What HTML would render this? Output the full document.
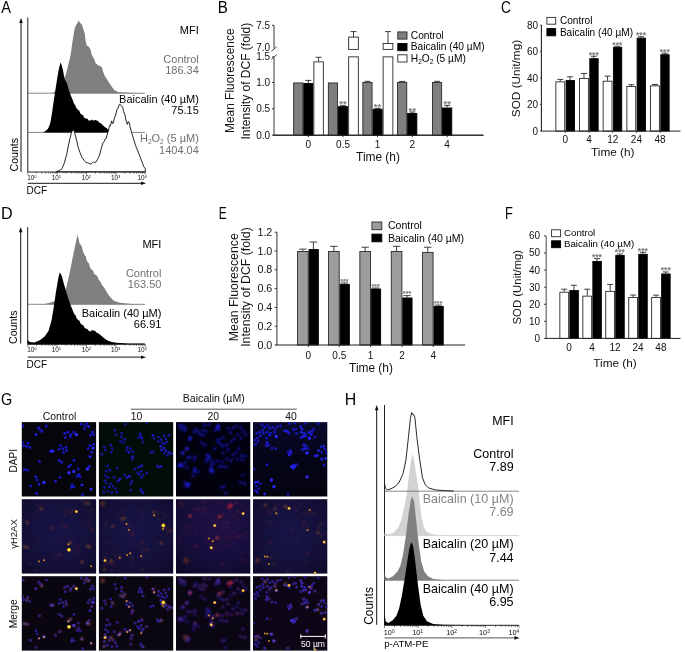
<!DOCTYPE html>
<html lang="en">
<head>
<meta charset="utf-8">
<title>Figure</title>
<style>
html,body{margin:0;padding:0;background:#fff;}
body{width:685px;height:652px;overflow:hidden;}
svg{display:block;font-family:"Liberation Sans", Arial, sans-serif;}
</style>
</head>
<body>
<svg width="685" height="652" viewBox="0 0 685 652">
<rect x="0" y="0" width="685" height="652" fill="#fff"/>
<text transform="translate(1.30 12.6) scale(0.882 1)" font-size="16.5" fill="#000">A</text>
<line x1="21" y1="172" x2="21" y2="21" stroke="#111" stroke-width="1"/>
<polygon points="19.2,23.0 21.0,17.7 22.8,23.0" fill="#111" stroke="none" stroke-width="1"/>
<line x1="27.8" y1="17.5" x2="27.8" y2="172" stroke="#222" stroke-width="1"/>
<line x1="27.8" y1="93.2" x2="145" y2="93.2" stroke="#6a6a6a" stroke-width="0.8"/>
<polygon points="51.6,93.2 54.4,91.9 60.0,86.0 64.9,77.6 67.5,68.0 70.6,54.9 72.6,41.0 74.7,28.3 76.5,24.5 78.7,20.7 80.0,22.8 81.9,24.5 83.3,29.0 84.8,34.0 85.6,41.0 86.7,45.4 88.5,46.5 90.5,49.2 91.5,54.0 93.3,57.7 94.6,60.0 95.5,63.0 98.1,65.3 100.0,66.0 101.9,67.2 103.0,71.5 104.7,75.7 107.0,79.5 109.5,83.3 112.0,87.0 114.2,90.0 118.0,91.9 123.0,92.5 129.4,92.8 144.6,93.2" fill="#7f7f7f" stroke="none" stroke-width="1"/>
<line x1="27.8" y1="132.4" x2="145" y2="132.4" stroke="#6a6a6a" stroke-width="0.8"/>
<polygon points="43.0,132.4 45.5,131.0 47.8,129.0 49.3,126.0 50.6,121.4 52.0,113.0 53.5,102.4 55.4,90.0 57.3,77.8 58.8,69.0 60.5,62.6 61.8,65.5 63.0,70.2 63.9,75.5 64.9,79.7 66.3,82.0 67.7,85.4 69.0,90.5 70.6,94.9 72.3,99.0 74.3,104.3 75.3,105.2 76.2,107.8 78.1,110.0 79.2,110.6 80.2,113.3 81.9,114.8 83.0,115.0 84.0,117.5 85.7,118.6 87.5,118.8 88.5,120.4 90.5,120.5 92.0,119.6 93.3,120.8 95.0,119.8 96.2,120.5 98.0,120.8 99.0,122.4 100.9,123.3 102.5,125.0 104.7,127.1 106.5,128.0 108.0,129.6 109.5,130.0 110.4,132.4" fill="#000" stroke="none" stroke-width="1"/>
<polygon points="56.0,171.8 59.0,170.8 61.9,168.8 64.3,163.0 66.6,154.8 68.3,146.0 70.0,138.4 71.5,132.5 73.1,129.8 74.2,131.0 75.2,134.9 76.8,141.0 78.3,147.8 80.0,152.5 81.8,157.1 84.0,160.2 86.4,162.9 88.0,162.6 90.0,164.1 91.8,163.6 93.5,161.8 94.6,162.6 95.8,162.2 97.5,159.3 99.3,155.9 101.0,149.5 102.8,143.1 104.2,141.6 105.2,138.8 106.3,138.4 107.3,134.0 108.6,130.2 109.5,125.3 110.4,125.8 111.7,120.9 112.4,123.6 113.3,123.2 114.4,118.0 115.7,115.0 116.8,110.0 118.0,108.0 119.0,104.9 120.3,104.5 121.5,106.3 122.7,106.9 123.7,111.8 125.0,115.0 126.0,120.5 127.3,124.4 128.2,121.6 129.0,122.1 130.4,128.0 132.0,133.7 133.6,139.0 135.5,145.4 137.8,151.0 140.2,157.1 142.0,162.0 143.7,166.4 145.3,168.8 145.3,171.8" fill="#fff" stroke="#111" stroke-width="0.9" stroke-linejoin="round"/>
<line x1="27.8" y1="172" x2="145.3" y2="172" stroke="#222" stroke-width="1"/>
<line x1="27.8" y1="172" x2="27.8" y2="174.6" stroke="#222" stroke-width="0.6"/>
<line x1="36.64" y1="172" x2="36.64" y2="173.6" stroke="#222" stroke-width="0.6"/>
<line x1="41.82" y1="172" x2="41.82" y2="173.6" stroke="#222" stroke-width="0.6"/>
<line x1="45.49" y1="172" x2="45.49" y2="173.6" stroke="#222" stroke-width="0.6"/>
<line x1="48.33" y1="172" x2="48.33" y2="173.6" stroke="#222" stroke-width="0.6"/>
<line x1="50.66" y1="172" x2="50.66" y2="173.6" stroke="#222" stroke-width="0.6"/>
<line x1="52.62" y1="172" x2="52.62" y2="173.6" stroke="#222" stroke-width="0.6"/>
<line x1="54.33" y1="172" x2="54.33" y2="173.6" stroke="#222" stroke-width="0.6"/>
<line x1="55.83" y1="172" x2="55.83" y2="173.6" stroke="#222" stroke-width="0.6"/>
<line x1="57.18" y1="172" x2="57.18" y2="174.6" stroke="#222" stroke-width="0.6"/>
<line x1="66.02" y1="172" x2="66.02" y2="173.6" stroke="#222" stroke-width="0.6"/>
<line x1="71.19" y1="172" x2="71.19" y2="173.6" stroke="#222" stroke-width="0.6"/>
<line x1="74.86" y1="172" x2="74.86" y2="173.6" stroke="#222" stroke-width="0.6"/>
<line x1="77.71" y1="172" x2="77.71" y2="173.6" stroke="#222" stroke-width="0.6"/>
<line x1="80.03" y1="172" x2="80.03" y2="173.6" stroke="#222" stroke-width="0.6"/>
<line x1="82.0" y1="172" x2="82.0" y2="173.6" stroke="#222" stroke-width="0.6"/>
<line x1="83.7" y1="172" x2="83.7" y2="173.6" stroke="#222" stroke-width="0.6"/>
<line x1="85.21" y1="172" x2="85.21" y2="173.6" stroke="#222" stroke-width="0.6"/>
<line x1="86.55" y1="172" x2="86.55" y2="174.6" stroke="#222" stroke-width="0.6"/>
<line x1="95.39" y1="172" x2="95.39" y2="173.6" stroke="#222" stroke-width="0.6"/>
<line x1="100.57" y1="172" x2="100.57" y2="173.6" stroke="#222" stroke-width="0.6"/>
<line x1="104.24" y1="172" x2="104.24" y2="173.6" stroke="#222" stroke-width="0.6"/>
<line x1="107.08" y1="172" x2="107.08" y2="173.6" stroke="#222" stroke-width="0.6"/>
<line x1="109.41" y1="172" x2="109.41" y2="173.6" stroke="#222" stroke-width="0.6"/>
<line x1="111.37" y1="172" x2="111.37" y2="173.6" stroke="#222" stroke-width="0.6"/>
<line x1="113.08" y1="172" x2="113.08" y2="173.6" stroke="#222" stroke-width="0.6"/>
<line x1="114.58" y1="172" x2="114.58" y2="173.6" stroke="#222" stroke-width="0.6"/>
<line x1="115.93" y1="172" x2="115.93" y2="174.6" stroke="#222" stroke-width="0.6"/>
<line x1="124.77" y1="172" x2="124.77" y2="173.6" stroke="#222" stroke-width="0.6"/>
<line x1="129.94" y1="172" x2="129.94" y2="173.6" stroke="#222" stroke-width="0.6"/>
<line x1="133.61" y1="172" x2="133.61" y2="173.6" stroke="#222" stroke-width="0.6"/>
<line x1="136.46" y1="172" x2="136.46" y2="173.6" stroke="#222" stroke-width="0.6"/>
<line x1="138.78" y1="172" x2="138.78" y2="173.6" stroke="#222" stroke-width="0.6"/>
<line x1="140.75" y1="172" x2="140.75" y2="173.6" stroke="#222" stroke-width="0.6"/>
<line x1="142.45" y1="172" x2="142.45" y2="173.6" stroke="#222" stroke-width="0.6"/>
<line x1="143.96" y1="172" x2="143.96" y2="173.6" stroke="#222" stroke-width="0.6"/>
<line x1="145.3" y1="172" x2="145.3" y2="174.6" stroke="#222" stroke-width="0.6"/>
<text x="27.2" y="180.1" font-size="6.4" fill="#111">10<tspan font-size="4.1" dy="-2">0</tspan></text>
<text x="51.7" y="180.1" font-size="6.4" fill="#111">10<tspan font-size="4.1" dy="-2">1</tspan></text>
<text x="81.7" y="180.1" font-size="6.4" fill="#111">10<tspan font-size="4.1" dy="-2">2</tspan></text>
<text x="111.0" y="180.1" font-size="6.4" fill="#111">10<tspan font-size="4.1" dy="-2">3</tspan></text>
<text x="137.4" y="180.1" font-size="6.4" fill="#111">10<tspan font-size="4.1" dy="-2">4</tspan></text>
<line x1="27.8" y1="183.3" x2="142.5" y2="183.3" stroke="#444" stroke-width="1.2"/>
<polygon points="141.0,181.5 146.0,183.3 141.0,185.1" fill="#111" stroke="none" stroke-width="1"/>
<text x="26.6" y="193.8" font-size="10" text-anchor="start" fill="#000">DCF</text>
<text x="17.6" y="171.5" font-size="10.6" text-anchor="start" fill="#000" transform="rotate(-90 17.6 171.5)">Counts</text>
<text x="198.8" y="34" font-size="11" text-anchor="end" fill="#000">MFI</text>
<text x="198.8" y="63" font-size="11" text-anchor="end" fill="#707070">Control</text>
<text x="198.8" y="73.7" font-size="11" text-anchor="end" fill="#707070">186.34</text>
<text x="198.8" y="103" font-size="11" text-anchor="end" fill="#000">Baicalin (40 µM)</text>
<text x="198.8" y="113.9" font-size="11" text-anchor="end" fill="#000">75.15</text>
<text x="198.8" y="142.4" font-size="11" text-anchor="end" fill="#707070">H<tspan font-size="6.5" dy="1.5">2</tspan><tspan dy="-1.5">O</tspan><tspan font-size="6.5" dy="1.5">2</tspan><tspan dy="-1.5"> (5 µM)</tspan></text>
<text x="198.8" y="153.8" font-size="11" text-anchor="end" fill="#707070">1404.04</text>
<text transform="translate(1.01 218.8) scale(0.976 1)" font-size="16.5" fill="#000">D</text>
<line x1="20.7" y1="343.5" x2="20.7" y2="230.2" stroke="#111" stroke-width="1"/>
<polygon points="18.9,232.2 20.7,226.9 22.5,232.2" fill="#111" stroke="none" stroke-width="1"/>
<line x1="27.7" y1="227" x2="27.7" y2="344.3" stroke="#222" stroke-width="1"/>
<line x1="27.7" y1="304.3" x2="145" y2="304.3" stroke="#6a6a6a" stroke-width="0.8"/>
<polygon points="44.0,304.3 49.7,302.8 55.4,300.9 61.0,296.0 65.8,289.5 68.0,280.0 70.5,268.7 72.6,258.0 74.7,247.8 76.2,240.5 77.6,234.9 78.6,239.0 79.7,244.0 80.8,244.8 81.9,246.8 83.0,251.5 84.8,255.4 85.8,256.0 86.6,260.6 87.6,262.0 89.0,263.5 90.0,267.5 91.4,269.6 93.0,270.6 94.2,274.0 96.2,275.3 97.6,276.5 98.6,279.8 100.0,281.0 102.0,285.0 104.7,288.6 107.0,292.5 109.5,296.2 112.0,299.0 114.2,300.9 119.9,302.8 131.3,304.0 144.6,304.3" fill="#7f7f7f" stroke="none" stroke-width="1"/>
<polygon points="27.7,344.3 27.7,340.0 29.7,341.9 34.5,342.4 40.2,340.0 44.9,336.2 48.7,330.5 51.6,320.0 53.0,312.0 54.4,303.0 55.8,293.0 57.3,284.0 58.5,277.0 59.7,272.6 60.8,274.0 62.0,276.4 63.0,280.5 63.9,284.0 65.3,288.5 66.8,293.5 68.6,299.5 70.5,304.9 72.4,309.5 74.3,314.3 75.5,315.0 76.4,318.0 78.1,320.0 79.5,320.8 80.4,323.2 81.9,324.8 83.5,325.4 84.5,327.8 85.7,328.6 87.5,329.0 88.8,331.0 90.5,331.4 92.0,330.0 93.3,330.5 95.0,330.8 96.4,332.6 98.1,333.3 100.5,335.0 102.8,337.1 105.5,339.2 108.5,340.9 112.0,342.0 116.1,342.8 129.4,343.4 144.6,343.6 144.6,344.3" fill="#000" stroke="none" stroke-width="1"/>
<line x1="27.7" y1="344.3" x2="145.3" y2="344.3" stroke="#222" stroke-width="1"/>
<line x1="27.7" y1="344.3" x2="27.7" y2="346.90000000000003" stroke="#222" stroke-width="0.6"/>
<line x1="36.55" y1="344.3" x2="36.55" y2="345.90000000000003" stroke="#222" stroke-width="0.6"/>
<line x1="41.73" y1="344.3" x2="41.73" y2="345.90000000000003" stroke="#222" stroke-width="0.6"/>
<line x1="45.4" y1="344.3" x2="45.4" y2="345.90000000000003" stroke="#222" stroke-width="0.6"/>
<line x1="48.25" y1="344.3" x2="48.25" y2="345.90000000000003" stroke="#222" stroke-width="0.6"/>
<line x1="50.58" y1="344.3" x2="50.58" y2="345.90000000000003" stroke="#222" stroke-width="0.6"/>
<line x1="52.55" y1="344.3" x2="52.55" y2="345.90000000000003" stroke="#222" stroke-width="0.6"/>
<line x1="54.25" y1="344.3" x2="54.25" y2="345.90000000000003" stroke="#222" stroke-width="0.6"/>
<line x1="55.75" y1="344.3" x2="55.75" y2="345.90000000000003" stroke="#222" stroke-width="0.6"/>
<line x1="57.1" y1="344.3" x2="57.1" y2="346.90000000000003" stroke="#222" stroke-width="0.6"/>
<line x1="65.95" y1="344.3" x2="65.95" y2="345.90000000000003" stroke="#222" stroke-width="0.6"/>
<line x1="71.13" y1="344.3" x2="71.13" y2="345.90000000000003" stroke="#222" stroke-width="0.6"/>
<line x1="74.8" y1="344.3" x2="74.8" y2="345.90000000000003" stroke="#222" stroke-width="0.6"/>
<line x1="77.65" y1="344.3" x2="77.65" y2="345.90000000000003" stroke="#222" stroke-width="0.6"/>
<line x1="79.98" y1="344.3" x2="79.98" y2="345.90000000000003" stroke="#222" stroke-width="0.6"/>
<line x1="81.95" y1="344.3" x2="81.95" y2="345.90000000000003" stroke="#222" stroke-width="0.6"/>
<line x1="83.65" y1="344.3" x2="83.65" y2="345.90000000000003" stroke="#222" stroke-width="0.6"/>
<line x1="85.15" y1="344.3" x2="85.15" y2="345.90000000000003" stroke="#222" stroke-width="0.6"/>
<line x1="86.5" y1="344.3" x2="86.5" y2="346.90000000000003" stroke="#222" stroke-width="0.6"/>
<line x1="95.35" y1="344.3" x2="95.35" y2="345.90000000000003" stroke="#222" stroke-width="0.6"/>
<line x1="100.53" y1="344.3" x2="100.53" y2="345.90000000000003" stroke="#222" stroke-width="0.6"/>
<line x1="104.2" y1="344.3" x2="104.2" y2="345.90000000000003" stroke="#222" stroke-width="0.6"/>
<line x1="107.05" y1="344.3" x2="107.05" y2="345.90000000000003" stroke="#222" stroke-width="0.6"/>
<line x1="109.38" y1="344.3" x2="109.38" y2="345.90000000000003" stroke="#222" stroke-width="0.6"/>
<line x1="111.35" y1="344.3" x2="111.35" y2="345.90000000000003" stroke="#222" stroke-width="0.6"/>
<line x1="113.05" y1="344.3" x2="113.05" y2="345.90000000000003" stroke="#222" stroke-width="0.6"/>
<line x1="114.55" y1="344.3" x2="114.55" y2="345.90000000000003" stroke="#222" stroke-width="0.6"/>
<line x1="115.9" y1="344.3" x2="115.9" y2="346.90000000000003" stroke="#222" stroke-width="0.6"/>
<line x1="124.75" y1="344.3" x2="124.75" y2="345.90000000000003" stroke="#222" stroke-width="0.6"/>
<line x1="129.93" y1="344.3" x2="129.93" y2="345.90000000000003" stroke="#222" stroke-width="0.6"/>
<line x1="133.6" y1="344.3" x2="133.6" y2="345.90000000000003" stroke="#222" stroke-width="0.6"/>
<line x1="136.45" y1="344.3" x2="136.45" y2="345.90000000000003" stroke="#222" stroke-width="0.6"/>
<line x1="138.78" y1="344.3" x2="138.78" y2="345.90000000000003" stroke="#222" stroke-width="0.6"/>
<line x1="140.75" y1="344.3" x2="140.75" y2="345.90000000000003" stroke="#222" stroke-width="0.6"/>
<line x1="142.45" y1="344.3" x2="142.45" y2="345.90000000000003" stroke="#222" stroke-width="0.6"/>
<line x1="143.95" y1="344.3" x2="143.95" y2="345.90000000000003" stroke="#222" stroke-width="0.6"/>
<line x1="145.3" y1="344.3" x2="145.3" y2="346.90000000000003" stroke="#222" stroke-width="0.6"/>
<text x="27.2" y="352.4" font-size="6.4" fill="#111">10<tspan font-size="4.1" dy="-2">0</tspan></text>
<text x="51.7" y="352.4" font-size="6.4" fill="#111">10<tspan font-size="4.1" dy="-2">1</tspan></text>
<text x="81.7" y="352.4" font-size="6.4" fill="#111">10<tspan font-size="4.1" dy="-2">2</tspan></text>
<text x="111.0" y="352.4" font-size="6.4" fill="#111">10<tspan font-size="4.1" dy="-2">3</tspan></text>
<text x="137.4" y="352.4" font-size="6.4" fill="#111">10<tspan font-size="4.1" dy="-2">4</tspan></text>
<line x1="27.7" y1="357.2" x2="142.5" y2="357.2" stroke="#444" stroke-width="1.2"/>
<polygon points="141.0,355.4 146.0,357.2 141.0,359.0" fill="#111" stroke="none" stroke-width="1"/>
<text x="26.6" y="368.4" font-size="10" text-anchor="start" fill="#000">DCF</text>
<text x="17.4" y="344" font-size="10.6" text-anchor="start" fill="#000" transform="rotate(-90 17.4 344)">Counts</text>
<text x="161.4" y="248" font-size="11" text-anchor="end" fill="#000">MFI</text>
<text x="161.4" y="276.8" font-size="11" text-anchor="end" fill="#707070">Control</text>
<text x="161.4" y="287.5" font-size="11" text-anchor="end" fill="#707070">163.50</text>
<text x="161.4" y="316.8" font-size="11" text-anchor="end" fill="#000">Baicalin (40 µM)</text>
<text x="161.4" y="328" font-size="11" text-anchor="end" fill="#000">66.91</text>
<text transform="translate(344.73 404.7) scale(0.963 1)" font-size="16.5" fill="#000">H</text>
<line x1="376.7" y1="624.8" x2="376.7" y2="408.2" stroke="#111" stroke-width="1"/>
<polygon points="374.9,410.2 376.7,404.9 378.5,410.2" fill="#111" stroke="none" stroke-width="1"/>
<line x1="384.5" y1="405" x2="384.5" y2="625.3" stroke="#222" stroke-width="1"/>
<line x1="384.5" y1="535.6" x2="519" y2="535.6" stroke="#cfcfcf" stroke-width="0.9"/>
<polygon points="384.5,535.6 384.5,533.2 389.2,534.4 393.8,532.5 398.4,527.4 401.2,520.0 403.9,508.9 406.7,494.2 407.6,486.7 409.2,474.0 410.8,462.0 412.6,453.8 414.2,461.0 416.0,473.0 418.1,486.7 419.6,499.7 421.4,516.3 423.3,525.5 426.0,531.0 430.6,533.8 437.1,535.1 450.0,535.6" fill="#d2d2d2" stroke="none" stroke-width="1"/>
<line x1="384.5" y1="491.2" x2="519" y2="491.2" stroke="#6a6a6a" stroke-width="0.8"/>
<line x1="384.5" y1="580.2" x2="519" y2="580.2" stroke="#7a7a7a" stroke-width="0.9"/>
<polygon points="384.5,580.2 384.5,571.6 385.5,577.1 388.3,578.6 392.9,576.2 397.5,571.6 400.3,566.0 403.0,555.0 405.8,536.6 408.5,514.5 410.9,499.7 412.4,496.4 414.1,501.6 415.9,518.1 418.7,543.9 421.4,562.3 424.2,571.6 427.9,576.2 433.4,578.9 442.6,580.0 453.7,580.2" fill="#808080" stroke="none" stroke-width="1"/>
<polygon points="384.5,625.3 384.5,612.2 385.6,621.2 388.3,623.0 392.8,620.3 396.4,615.8 399.1,608.6 401.8,596.0 404.5,579.9 407.2,561.9 409.5,547.6 411.3,542.2 413.1,545.8 415.3,561.9 418.0,585.3 420.7,605.0 423.3,615.8 426.9,621.2 433.2,623.9 444.0,624.8 465.0,625.1 519.0,625.3" fill="#000" stroke="none" stroke-width="1"/>
<polyline points="384.6,483.8 385.5,488.4 387.4,489.9 391.0,488.8 395.7,486.2 399.3,482.0 403.0,473.7 405.8,460.8 408.5,436.8 410.4,418.4 411.7,412.5 412.8,414.7 413.7,414.4 415.0,418.4 416.8,436.8 419.6,458.9 422.4,477.3 425.1,484.7 428.8,488.0 435.2,489.9 444.5,490.6 453.7,491.0" fill="none" stroke="#111" stroke-width="0.9" stroke-linejoin="round"/>
<line x1="384.5" y1="625.3" x2="519" y2="625.3" stroke="#222" stroke-width="1"/>
<line x1="384.5" y1="625.3" x2="384.5" y2="627.9" stroke="#222" stroke-width="0.6"/>
<line x1="394.62" y1="625.3" x2="394.62" y2="626.9" stroke="#222" stroke-width="0.6"/>
<line x1="400.54" y1="625.3" x2="400.54" y2="626.9" stroke="#222" stroke-width="0.6"/>
<line x1="404.74" y1="625.3" x2="404.74" y2="626.9" stroke="#222" stroke-width="0.6"/>
<line x1="408.0" y1="625.3" x2="408.0" y2="626.9" stroke="#222" stroke-width="0.6"/>
<line x1="410.67" y1="625.3" x2="410.67" y2="626.9" stroke="#222" stroke-width="0.6"/>
<line x1="412.92" y1="625.3" x2="412.92" y2="626.9" stroke="#222" stroke-width="0.6"/>
<line x1="414.87" y1="625.3" x2="414.87" y2="626.9" stroke="#222" stroke-width="0.6"/>
<line x1="416.59" y1="625.3" x2="416.59" y2="626.9" stroke="#222" stroke-width="0.6"/>
<line x1="418.12" y1="625.3" x2="418.12" y2="627.9" stroke="#222" stroke-width="0.6"/>
<line x1="428.25" y1="625.3" x2="428.25" y2="626.9" stroke="#222" stroke-width="0.6"/>
<line x1="434.17" y1="625.3" x2="434.17" y2="626.9" stroke="#222" stroke-width="0.6"/>
<line x1="438.37" y1="625.3" x2="438.37" y2="626.9" stroke="#222" stroke-width="0.6"/>
<line x1="441.63" y1="625.3" x2="441.63" y2="626.9" stroke="#222" stroke-width="0.6"/>
<line x1="444.29" y1="625.3" x2="444.29" y2="626.9" stroke="#222" stroke-width="0.6"/>
<line x1="446.54" y1="625.3" x2="446.54" y2="626.9" stroke="#222" stroke-width="0.6"/>
<line x1="448.49" y1="625.3" x2="448.49" y2="626.9" stroke="#222" stroke-width="0.6"/>
<line x1="450.21" y1="625.3" x2="450.21" y2="626.9" stroke="#222" stroke-width="0.6"/>
<line x1="451.75" y1="625.3" x2="451.75" y2="627.9" stroke="#222" stroke-width="0.6"/>
<line x1="461.87" y1="625.3" x2="461.87" y2="626.9" stroke="#222" stroke-width="0.6"/>
<line x1="467.79" y1="625.3" x2="467.79" y2="626.9" stroke="#222" stroke-width="0.6"/>
<line x1="471.99" y1="625.3" x2="471.99" y2="626.9" stroke="#222" stroke-width="0.6"/>
<line x1="475.25" y1="625.3" x2="475.25" y2="626.9" stroke="#222" stroke-width="0.6"/>
<line x1="477.92" y1="625.3" x2="477.92" y2="626.9" stroke="#222" stroke-width="0.6"/>
<line x1="480.17" y1="625.3" x2="480.17" y2="626.9" stroke="#222" stroke-width="0.6"/>
<line x1="482.12" y1="625.3" x2="482.12" y2="626.9" stroke="#222" stroke-width="0.6"/>
<line x1="483.84" y1="625.3" x2="483.84" y2="626.9" stroke="#222" stroke-width="0.6"/>
<line x1="485.38" y1="625.3" x2="485.38" y2="627.9" stroke="#222" stroke-width="0.6"/>
<line x1="495.5" y1="625.3" x2="495.5" y2="626.9" stroke="#222" stroke-width="0.6"/>
<line x1="501.42" y1="625.3" x2="501.42" y2="626.9" stroke="#222" stroke-width="0.6"/>
<line x1="505.62" y1="625.3" x2="505.62" y2="626.9" stroke="#222" stroke-width="0.6"/>
<line x1="508.88" y1="625.3" x2="508.88" y2="626.9" stroke="#222" stroke-width="0.6"/>
<line x1="511.54" y1="625.3" x2="511.54" y2="626.9" stroke="#222" stroke-width="0.6"/>
<line x1="513.79" y1="625.3" x2="513.79" y2="626.9" stroke="#222" stroke-width="0.6"/>
<line x1="515.74" y1="625.3" x2="515.74" y2="626.9" stroke="#222" stroke-width="0.6"/>
<line x1="517.46" y1="625.3" x2="517.46" y2="626.9" stroke="#222" stroke-width="0.6"/>
<line x1="519" y1="625.3" x2="519" y2="627.9" stroke="#222" stroke-width="0.6"/>
<text x="383.8" y="634.5" font-size="7.3" fill="#111">10<tspan font-size="4.8" dy="-2">0</tspan></text>
<text x="412.2" y="634.5" font-size="7.3" fill="#111">10<tspan font-size="4.8" dy="-2">1</tspan></text>
<text x="446.2" y="634.5" font-size="7.3" fill="#111">10<tspan font-size="4.8" dy="-2">2</tspan></text>
<text x="479.0" y="634.5" font-size="7.3" fill="#111">10<tspan font-size="4.8" dy="-2">3</tspan></text>
<text x="508.4" y="634.5" font-size="7.3" fill="#111">10<tspan font-size="4.8" dy="-2">4</tspan></text>
<line x1="384.5" y1="637.9" x2="516" y2="637.9" stroke="#777" stroke-width="1.2"/>
<polygon points="514.5,636.1 519.5,637.9 514.5,639.7" fill="#111" stroke="none" stroke-width="1"/>
<text x="384.2" y="647.3" font-size="9.65" text-anchor="start" fill="#000">p-ATM-PE</text>
<text x="373.2" y="624.8" font-size="11.9" text-anchor="start" fill="#000" transform="rotate(-90 373.2 624.8)">Counts</text>
<text x="513.6" y="424.8" font-size="12.4" text-anchor="end" fill="#000">MFI</text>
<text x="513.6" y="458.1" font-size="12.5" text-anchor="end" fill="#000">Control</text>
<text x="513.6" y="471" font-size="12.5" text-anchor="end" fill="#000">7.89</text>
<text x="513.6" y="503" font-size="12.55" text-anchor="end" fill="#858585">Baicalin (10 µM)</text>
<text x="513.6" y="516.2" font-size="12.55" text-anchor="end" fill="#858585">7.69</text>
<text x="513.6" y="548.1" font-size="12.55" text-anchor="end" fill="#000">Baicalin (20 µM)</text>
<text x="513.6" y="561.5" font-size="12.55" text-anchor="end" fill="#000">7.44</text>
<text x="513.6" y="592.8" font-size="12.55" text-anchor="end" fill="#000">Baicalin (40 µM)</text>
<text x="513.6" y="605.6" font-size="12.55" text-anchor="end" fill="#000">6.95</text>
<text transform="translate(217.79 12.8) scale(0.915 1)" font-size="16.5" fill="#000">B</text>
<line x1="274.0" y1="25.2" x2="274.0" y2="48.6" stroke="#4a4a4a" stroke-width="1.1"/>
<line x1="274.0" y1="57.4" x2="274.0" y2="135.2" stroke="#4a4a4a" stroke-width="1.1"/>
<line x1="271.4" y1="51.4" x2="276.6" y2="46.8" stroke="#222" stroke-width="0.9"/>
<line x1="271.4" y1="59.4" x2="276.6" y2="54.7" stroke="#222" stroke-width="0.9"/>
<line x1="273.5" y1="135.2" x2="483.5" y2="135.2" stroke="#222" stroke-width="1"/>
<line x1="272.0" y1="135.2" x2="274.0" y2="135.2" stroke="#222" stroke-width="0.9"/>
<text x="270.2" y="138.65" font-size="10" text-anchor="end" fill="#111">0.0</text>
<line x1="272.0" y1="108.85" x2="274.0" y2="108.85" stroke="#222" stroke-width="0.9"/>
<text x="270.2" y="112.3" font-size="10" text-anchor="end" fill="#111">0.5</text>
<line x1="272.0" y1="82.49999999999999" x2="274.0" y2="82.49999999999999" stroke="#222" stroke-width="0.9"/>
<text x="270.2" y="85.95" font-size="10" text-anchor="end" fill="#111">1.0</text>
<line x1="272.0" y1="56.9" x2="274.0" y2="56.9" stroke="#222" stroke-width="0.9"/>
<text x="270.2" y="60.35" font-size="10" text-anchor="end" fill="#111">1.5</text>
<text x="270.2" y="51.25" font-size="10" text-anchor="end" fill="#111">7.0</text>
<line x1="272.0" y1="25.3" x2="274.0" y2="25.3" stroke="#222" stroke-width="0.9"/>
<text x="270.2" y="28.75" font-size="10" text-anchor="end" fill="#111">7.5</text>
<rect x="293.65" y="82.95" width="9.20" height="52.25" fill="#7f7f7f" stroke="#2a2a2a" stroke-width="0.9"/>
<line x1="308.34999999999997" y1="83.02699999999999" x2="308.34999999999997" y2="80.39199999999998" stroke="#2a2a2a" stroke-width="0.9"/>
<line x1="305.34999999999997" y1="80.39199999999998" x2="311.34999999999997" y2="80.39199999999998" stroke="#2a2a2a" stroke-width="0.9"/>
<rect x="303.75" y="83.48" width="9.20" height="51.72" fill="#000" stroke="#000" stroke-width="0.9"/>
<rect x="328.35" y="82.95" width="9.20" height="52.25" fill="#7f7f7f" stroke="#2a2a2a" stroke-width="0.9"/>
<line x1="343.04999999999995" y1="106.21499999999999" x2="343.04999999999995" y2="105.68799999999999" stroke="#2a2a2a" stroke-width="0.9"/>
<line x1="340.04999999999995" y1="105.68799999999999" x2="346.04999999999995" y2="105.68799999999999" stroke="#2a2a2a" stroke-width="0.9"/>
<rect x="338.45" y="106.66" width="9.20" height="28.54" fill="#000" stroke="#000" stroke-width="0.9"/>
<text x="343.04999999999995" y="107.48" font-size="9.5" text-anchor="middle" fill="#7a7a7a" stroke="#7a7a7a" stroke-width="0.25">**</text>
<rect x="362.85" y="82.42" width="9.20" height="52.78" fill="#7f7f7f" stroke="#2a2a2a" stroke-width="0.9"/>
<line x1="367.45" y1="81.97299999999998" x2="367.45" y2="81.3406" stroke="#2a2a2a" stroke-width="0.9"/>
<line x1="364.45" y1="81.3406" x2="370.45" y2="81.3406" stroke="#2a2a2a" stroke-width="0.9"/>
<line x1="377.54999999999995" y1="108.85" x2="377.54999999999995" y2="108.42839999999998" stroke="#2a2a2a" stroke-width="0.9"/>
<line x1="374.54999999999995" y1="108.42839999999998" x2="380.54999999999995" y2="108.42839999999998" stroke="#2a2a2a" stroke-width="0.9"/>
<rect x="372.95" y="109.30" width="9.20" height="25.90" fill="#000" stroke="#000" stroke-width="0.9"/>
<text x="377.54999999999995" y="110.22" font-size="9.5" text-anchor="middle" fill="#7a7a7a" stroke="#7a7a7a" stroke-width="0.25">**</text>
<rect x="397.55" y="82.42" width="9.20" height="52.78" fill="#7f7f7f" stroke="#2a2a2a" stroke-width="0.9"/>
<line x1="402.15000000000003" y1="81.97299999999998" x2="402.15000000000003" y2="81.44599999999998" stroke="#2a2a2a" stroke-width="0.9"/>
<line x1="399.15000000000003" y1="81.44599999999998" x2="405.15000000000003" y2="81.44599999999998" stroke="#2a2a2a" stroke-width="0.9"/>
<line x1="412.25" y1="113.06599999999999" x2="412.25" y2="112.01199999999999" stroke="#2a2a2a" stroke-width="0.9"/>
<line x1="409.25" y1="112.01199999999999" x2="415.25" y2="112.01199999999999" stroke="#2a2a2a" stroke-width="0.9"/>
<rect x="407.65" y="113.52" width="9.20" height="21.68" fill="#000" stroke="#000" stroke-width="0.9"/>
<text x="412.25" y="113.8" font-size="9.5" text-anchor="middle" fill="#7a7a7a" stroke="#7a7a7a" stroke-width="0.25">**</text>
<rect x="432.45" y="82.42" width="9.20" height="52.78" fill="#7f7f7f" stroke="#2a2a2a" stroke-width="0.9"/>
<line x1="437.05" y1="81.97299999999998" x2="437.05" y2="81.3406" stroke="#2a2a2a" stroke-width="0.9"/>
<line x1="434.05" y1="81.3406" x2="440.05" y2="81.3406" stroke="#2a2a2a" stroke-width="0.9"/>
<line x1="447.15" y1="107.53249999999998" x2="447.15" y2="105.42449999999998" stroke="#2a2a2a" stroke-width="0.9"/>
<line x1="444.15" y1="105.42449999999998" x2="450.15" y2="105.42449999999998" stroke="#2a2a2a" stroke-width="0.9"/>
<rect x="442.55" y="107.98" width="9.20" height="27.22" fill="#000" stroke="#000" stroke-width="0.9"/>
<text x="447.15" y="107.22" font-size="9.5" text-anchor="middle" fill="#7a7a7a" stroke="#7a7a7a" stroke-width="0.25">**</text>
<rect x="313.85" y="61.87" width="9.50" height="73.33" fill="#fff" stroke="#2a2a2a" stroke-width="0.9"/>
<line x1="318.59999999999997" y1="61.41999999999999" x2="318.59999999999997" y2="57.30939999999998" stroke="#2a2a2a" stroke-width="0.9"/>
<line x1="315.59999999999997" y1="57.30939999999998" x2="321.59999999999997" y2="57.30939999999998" stroke="#2a2a2a" stroke-width="0.9"/>
<rect x="348.65" y="56.85" width="9.70" height="78.35" fill="#fff" stroke="#2a2a2a" stroke-width="0.9"/>
<rect x="348.65" y="37.10" width="9.70" height="12.30" fill="#fff" stroke="#2a2a2a" stroke-width="0.9"/>
<line x1="353.5" y1="37.1" x2="353.5" y2="31.6" stroke="#2a2a2a" stroke-width="0.9"/>
<line x1="350.5" y1="31.6" x2="356.5" y2="31.6" stroke="#2a2a2a" stroke-width="0.9"/>
<rect x="383.15" y="56.85" width="9.70" height="78.35" fill="#fff" stroke="#2a2a2a" stroke-width="0.9"/>
<rect x="383.15" y="43.53" width="9.70" height="5.87" fill="#fff" stroke="#2a2a2a" stroke-width="0.9"/>
<line x1="388.0" y1="43.52599999999999" x2="388.0" y2="31.6" stroke="#2a2a2a" stroke-width="0.9"/>
<line x1="385.0" y1="31.6" x2="391.0" y2="31.6" stroke="#2a2a2a" stroke-width="0.9"/>
<line x1="273.5" y1="135.2" x2="483.5" y2="135.2" stroke="#222" stroke-width="1"/>
<text x="308.34999999999997" y="147.5" font-size="10" text-anchor="middle" fill="#111">0</text>
<line x1="308.34999999999997" y1="135.2" x2="308.34999999999997" y2="137.2" stroke="#222" stroke-width="0.9"/>
<text x="343.04999999999995" y="147.5" font-size="10" text-anchor="middle" fill="#111">0.5</text>
<line x1="343.04999999999995" y1="135.2" x2="343.04999999999995" y2="137.2" stroke="#222" stroke-width="0.9"/>
<text x="377.54999999999995" y="147.5" font-size="10" text-anchor="middle" fill="#111">1</text>
<line x1="377.54999999999995" y1="135.2" x2="377.54999999999995" y2="137.2" stroke="#222" stroke-width="0.9"/>
<text x="412.25" y="147.5" font-size="10" text-anchor="middle" fill="#111">2</text>
<line x1="412.25" y1="135.2" x2="412.25" y2="137.2" stroke="#222" stroke-width="0.9"/>
<text x="447.15" y="147.5" font-size="10" text-anchor="middle" fill="#111">4</text>
<line x1="447.15" y1="135.2" x2="447.15" y2="137.2" stroke="#222" stroke-width="0.9"/>
<text x="378" y="161.4" font-size="11.9" text-anchor="middle" fill="#111">Time (h)</text>
<text x="234.2" y="80.7" font-size="11.9" text-anchor="middle" fill="#111" transform="rotate(-90 234.2 80.7)">Mean Fluorescence</text>
<text x="249.8" y="81.2" font-size="12" text-anchor="middle" fill="#111" transform="rotate(-90 249.8 81.2)">Intensity of DCF (fold)</text>
<rect x="397.80" y="31.90" width="9.20" height="7.20" fill="#7f7f7f" stroke="#2a2a2a" stroke-width="0.9"/>
<rect x="397.80" y="43.50" width="9.20" height="7.20" fill="#000" stroke="#000" stroke-width="0.9"/>
<rect x="397.80" y="54.80" width="9.20" height="7.20" fill="#fff" stroke="#2a2a2a" stroke-width="0.9"/>
<text x="410.8" y="39.2" font-size="10.2" text-anchor="start" fill="#000">Control</text>
<text x="410.8" y="50.4" font-size="10.2" text-anchor="start" fill="#000">Baicalin (40 µM)</text>
<text x="410.8" y="61.8" font-size="10.2" fill="#000">H<tspan font-size="6.5" dy="1.8">2</tspan><tspan dy="-1.8">O</tspan><tspan font-size="6.5" dy="1.8">2</tspan><tspan dy="-1.8"> (5 µM)</tspan></text>
<text transform="translate(501.02 12.9) scale(0.827 1)" font-size="16.5" fill="#000">C</text>
<line x1="541.4" y1="25.099999999999994" x2="541.4" y2="131.1" stroke="#222" stroke-width="1.1"/>
<line x1="540.1999999999999" y1="131.1" x2="541.4" y2="131.1" stroke="#222" stroke-width="0.9"/>
<text x="538.1" y="134.55" font-size="10" text-anchor="end" fill="#111">0</text>
<line x1="540.1999999999999" y1="104.6" x2="541.4" y2="104.6" stroke="#222" stroke-width="0.9"/>
<text x="538.1" y="108.05" font-size="10" text-anchor="end" fill="#111">20</text>
<line x1="540.1999999999999" y1="78.1" x2="541.4" y2="78.1" stroke="#222" stroke-width="0.9"/>
<text x="538.1" y="81.55" font-size="10" text-anchor="end" fill="#111">40</text>
<line x1="540.1999999999999" y1="51.599999999999994" x2="541.4" y2="51.599999999999994" stroke="#222" stroke-width="0.9"/>
<text x="538.1" y="55.05" font-size="10" text-anchor="end" fill="#111">60</text>
<line x1="540.1999999999999" y1="25.099999999999994" x2="541.4" y2="25.099999999999994" stroke="#222" stroke-width="0.9"/>
<text x="538.1" y="28.55" font-size="10" text-anchor="end" fill="#111">80</text>
<rect x="555.85" y="81.86" width="8.85" height="49.24" fill="#fff" stroke="#2a2a2a" stroke-width="0.9"/>
<line x1="560.275" y1="81.4125" x2="560.275" y2="79.425" stroke="#2a2a2a" stroke-width="0.9"/>
<line x1="557.275" y1="79.425" x2="563.275" y2="79.425" stroke="#2a2a2a" stroke-width="0.9"/>
<line x1="570.025" y1="80.0875" x2="570.025" y2="76.775" stroke="#2a2a2a" stroke-width="0.9"/>
<line x1="567.025" y1="76.775" x2="573.025" y2="76.775" stroke="#2a2a2a" stroke-width="0.9"/>
<rect x="566.10" y="80.54" width="8.35" height="50.56" fill="#000" stroke="#000" stroke-width="0.9"/>
<rect x="579.55" y="78.55" width="8.85" height="52.55" fill="#fff" stroke="#2a2a2a" stroke-width="0.9"/>
<line x1="583.975" y1="78.1" x2="583.975" y2="73.4625" stroke="#2a2a2a" stroke-width="0.9"/>
<line x1="580.975" y1="73.4625" x2="586.975" y2="73.4625" stroke="#2a2a2a" stroke-width="0.9"/>
<line x1="593.725" y1="58.224999999999994" x2="593.725" y2="56.2375" stroke="#2a2a2a" stroke-width="0.9"/>
<line x1="590.725" y1="56.2375" x2="596.725" y2="56.2375" stroke="#2a2a2a" stroke-width="0.9"/>
<rect x="589.80" y="58.67" width="8.35" height="72.42" fill="#000" stroke="#000" stroke-width="0.9"/>
<text x="593.725" y="57.57" font-size="8.6" text-anchor="middle" fill="#7a7a7a" stroke="#7a7a7a" stroke-width="0.25">***</text>
<rect x="603.15" y="81.20" width="8.85" height="49.90" fill="#fff" stroke="#2a2a2a" stroke-width="0.9"/>
<line x1="607.575" y1="80.75" x2="607.575" y2="76.1125" stroke="#2a2a2a" stroke-width="0.9"/>
<line x1="604.575" y1="76.1125" x2="610.575" y2="76.1125" stroke="#2a2a2a" stroke-width="0.9"/>
<line x1="617.325" y1="46.96249999999999" x2="617.325" y2="46.3" stroke="#2a2a2a" stroke-width="0.9"/>
<line x1="614.325" y1="46.3" x2="620.325" y2="46.3" stroke="#2a2a2a" stroke-width="0.9"/>
<rect x="613.40" y="47.41" width="8.35" height="83.69" fill="#000" stroke="#000" stroke-width="0.9"/>
<text x="617.325" y="47.63" font-size="8.6" text-anchor="middle" fill="#7a7a7a" stroke="#7a7a7a" stroke-width="0.25">***</text>
<rect x="626.85" y="86.50" width="8.85" height="44.60" fill="#fff" stroke="#2a2a2a" stroke-width="0.9"/>
<line x1="631.275" y1="86.05" x2="631.275" y2="84.725" stroke="#2a2a2a" stroke-width="0.9"/>
<line x1="628.275" y1="84.725" x2="634.275" y2="84.725" stroke="#2a2a2a" stroke-width="0.9"/>
<line x1="641.025" y1="37.6875" x2="641.025" y2="36.75999999999999" stroke="#2a2a2a" stroke-width="0.9"/>
<line x1="638.025" y1="36.75999999999999" x2="644.025" y2="36.75999999999999" stroke="#2a2a2a" stroke-width="0.9"/>
<rect x="637.10" y="38.14" width="8.35" height="92.96" fill="#000" stroke="#000" stroke-width="0.9"/>
<text x="641.025" y="38.09" font-size="8.6" text-anchor="middle" fill="#7a7a7a" stroke="#7a7a7a" stroke-width="0.25">***</text>
<rect x="650.55" y="85.84" width="8.85" height="45.26" fill="#fff" stroke="#2a2a2a" stroke-width="0.9"/>
<line x1="654.975" y1="85.38749999999999" x2="654.975" y2="84.46" stroke="#2a2a2a" stroke-width="0.9"/>
<line x1="651.975" y1="84.46" x2="657.975" y2="84.46" stroke="#2a2a2a" stroke-width="0.9"/>
<line x1="664.725" y1="54.25" x2="664.725" y2="53.19" stroke="#2a2a2a" stroke-width="0.9"/>
<line x1="661.725" y1="53.19" x2="667.725" y2="53.19" stroke="#2a2a2a" stroke-width="0.9"/>
<rect x="660.80" y="54.70" width="8.35" height="76.40" fill="#000" stroke="#000" stroke-width="0.9"/>
<text x="664.725" y="54.52" font-size="8.6" text-anchor="middle" fill="#7a7a7a" stroke="#7a7a7a" stroke-width="0.25">***</text>
<line x1="540.9" y1="131.1" x2="680.5" y2="131.1" stroke="#222" stroke-width="1"/>
<text x="565.4" y="142.5" font-size="10" text-anchor="middle" fill="#111">0</text>
<line x1="565.4" y1="131.1" x2="565.4" y2="132.8" stroke="#222" stroke-width="0.9"/>
<text x="589.1" y="142.5" font-size="10" text-anchor="middle" fill="#111">4</text>
<line x1="589.1" y1="131.1" x2="589.1" y2="132.8" stroke="#222" stroke-width="0.9"/>
<text x="612.7" y="142.5" font-size="10" text-anchor="middle" fill="#111">12</text>
<line x1="612.7" y1="131.1" x2="612.7" y2="132.8" stroke="#222" stroke-width="0.9"/>
<text x="636.4" y="142.5" font-size="10" text-anchor="middle" fill="#111">24</text>
<line x1="636.4" y1="131.1" x2="636.4" y2="132.8" stroke="#222" stroke-width="0.9"/>
<text x="660.1" y="142.5" font-size="10" text-anchor="middle" fill="#111">48</text>
<line x1="660.1" y1="131.1" x2="660.1" y2="132.8" stroke="#222" stroke-width="0.9"/>
<text x="612.8" y="156.4" font-size="11.8" text-anchor="middle" fill="#111">Time (h)</text>
<text x="520.3" y="78.5" font-size="11.8" text-anchor="middle" fill="#111" transform="rotate(-90 520.3 78.5)">SOD (Unit/mg)</text>
<rect x="546.90" y="17.40" width="8.80" height="6.80" fill="#fff" stroke="#2a2a2a" stroke-width="0.9"/>
<rect x="546.90" y="28.60" width="8.80" height="7.20" fill="#000" stroke="#000" stroke-width="0.9"/>
<text x="559.9" y="24.3" font-size="10.1" text-anchor="start" fill="#000">Control</text>
<text x="559.9" y="35.5" font-size="10.1" text-anchor="start" fill="#000">Baicalin (40 µM)</text>
<text transform="translate(218.85 218.8) scale(0.718 1)" font-size="16.5" fill="#000">E</text>
<line x1="276.9" y1="232.2" x2="276.9" y2="345" stroke="#444" stroke-width="1.1"/>
<line x1="274.59999999999997" y1="345.0" x2="276.9" y2="345.0" stroke="#222" stroke-width="0.9"/>
<text x="272.3" y="348.69" font-size="10.7" text-anchor="end" fill="#111">0.0</text>
<line x1="274.59999999999997" y1="326.2" x2="276.9" y2="326.2" stroke="#222" stroke-width="0.9"/>
<text x="272.3" y="329.89" font-size="10.7" text-anchor="end" fill="#111">0.2</text>
<line x1="274.59999999999997" y1="307.4" x2="276.9" y2="307.4" stroke="#222" stroke-width="0.9"/>
<text x="272.3" y="311.09" font-size="10.7" text-anchor="end" fill="#111">0.4</text>
<line x1="274.59999999999997" y1="288.6" x2="276.9" y2="288.6" stroke="#222" stroke-width="0.9"/>
<text x="272.3" y="292.29" font-size="10.7" text-anchor="end" fill="#111">0.6</text>
<line x1="274.59999999999997" y1="269.8" x2="276.9" y2="269.8" stroke="#222" stroke-width="0.9"/>
<text x="272.3" y="273.49" font-size="10.7" text-anchor="end" fill="#111">0.8</text>
<line x1="274.59999999999997" y1="251.0" x2="276.9" y2="251.0" stroke="#222" stroke-width="0.9"/>
<text x="272.3" y="254.69" font-size="10.7" text-anchor="end" fill="#111">1.0</text>
<line x1="274.59999999999997" y1="232.2" x2="276.9" y2="232.2" stroke="#222" stroke-width="0.9"/>
<text x="272.3" y="235.89" font-size="10.7" text-anchor="end" fill="#111">1.2</text>
<rect x="297.55" y="251.45" width="10.65" height="93.55" fill="#9c9c9c" stroke="#2a2a2a" stroke-width="0.9"/>
<line x1="302.875" y1="251.0" x2="302.875" y2="249.12" stroke="#2a2a2a" stroke-width="0.9"/>
<line x1="299.175" y1="249.12" x2="306.575" y2="249.12" stroke="#2a2a2a" stroke-width="0.9"/>
<line x1="313.375" y1="249.12" x2="313.375" y2="242.07" stroke="#2a2a2a" stroke-width="0.9"/>
<line x1="309.675" y1="242.07" x2="317.075" y2="242.07" stroke="#2a2a2a" stroke-width="0.9"/>
<rect x="309.10" y="249.57" width="9.25" height="95.43" fill="#000" stroke="#000" stroke-width="0.9"/>
<rect x="328.55" y="251.45" width="10.65" height="93.55" fill="#9c9c9c" stroke="#2a2a2a" stroke-width="0.9"/>
<line x1="333.875" y1="251.0" x2="333.875" y2="246.3" stroke="#2a2a2a" stroke-width="0.9"/>
<line x1="330.175" y1="246.3" x2="337.575" y2="246.3" stroke="#2a2a2a" stroke-width="0.9"/>
<line x1="344.375" y1="283.9" x2="344.375" y2="282.96" stroke="#2a2a2a" stroke-width="0.9"/>
<line x1="340.675" y1="282.96" x2="348.075" y2="282.96" stroke="#2a2a2a" stroke-width="0.9"/>
<rect x="340.10" y="284.35" width="9.25" height="60.65" fill="#000" stroke="#000" stroke-width="0.9"/>
<text x="344.375" y="283.57" font-size="7.2" text-anchor="middle" fill="#7a7a7a" stroke="#7a7a7a" stroke-width="0.25">***</text>
<rect x="359.85" y="251.45" width="10.65" height="93.55" fill="#9c9c9c" stroke="#2a2a2a" stroke-width="0.9"/>
<line x1="365.17499999999995" y1="251.0" x2="365.17499999999995" y2="247.24" stroke="#2a2a2a" stroke-width="0.9"/>
<line x1="361.47499999999997" y1="247.24" x2="368.87499999999994" y2="247.24" stroke="#2a2a2a" stroke-width="0.9"/>
<line x1="375.67499999999995" y1="288.6" x2="375.67499999999995" y2="288.036" stroke="#2a2a2a" stroke-width="0.9"/>
<line x1="371.97499999999997" y1="288.036" x2="379.37499999999994" y2="288.036" stroke="#2a2a2a" stroke-width="0.9"/>
<rect x="371.40" y="289.05" width="9.25" height="55.95" fill="#000" stroke="#000" stroke-width="0.9"/>
<text x="375.67499999999995" y="288.64" font-size="7.2" text-anchor="middle" fill="#7a7a7a" stroke="#7a7a7a" stroke-width="0.25">***</text>
<rect x="391.25" y="251.45" width="10.65" height="93.55" fill="#9c9c9c" stroke="#2a2a2a" stroke-width="0.9"/>
<line x1="396.575" y1="251.0" x2="396.575" y2="246.3" stroke="#2a2a2a" stroke-width="0.9"/>
<line x1="392.875" y1="246.3" x2="400.275" y2="246.3" stroke="#2a2a2a" stroke-width="0.9"/>
<line x1="407.075" y1="297.53" x2="407.075" y2="295.65" stroke="#2a2a2a" stroke-width="0.9"/>
<line x1="403.375" y1="295.65" x2="410.775" y2="295.65" stroke="#2a2a2a" stroke-width="0.9"/>
<rect x="402.80" y="297.98" width="9.25" height="47.02" fill="#000" stroke="#000" stroke-width="0.9"/>
<text x="407.075" y="296.26" font-size="7.2" text-anchor="middle" fill="#7a7a7a" stroke="#7a7a7a" stroke-width="0.25">***</text>
<rect x="422.45" y="252.39" width="10.65" height="92.61" fill="#9c9c9c" stroke="#2a2a2a" stroke-width="0.9"/>
<line x1="427.775" y1="251.94" x2="427.775" y2="247.24" stroke="#2a2a2a" stroke-width="0.9"/>
<line x1="424.075" y1="247.24" x2="431.47499999999997" y2="247.24" stroke="#2a2a2a" stroke-width="0.9"/>
<line x1="438.275" y1="305.99" x2="438.275" y2="305.05" stroke="#2a2a2a" stroke-width="0.9"/>
<line x1="434.575" y1="305.05" x2="441.97499999999997" y2="305.05" stroke="#2a2a2a" stroke-width="0.9"/>
<rect x="434.00" y="306.44" width="9.25" height="38.56" fill="#000" stroke="#000" stroke-width="0.9"/>
<text x="438.275" y="305.66" font-size="7.2" text-anchor="middle" fill="#7a7a7a" stroke="#7a7a7a" stroke-width="0.25">***</text>
<line x1="276.4" y1="345" x2="465" y2="345" stroke="#222" stroke-width="1"/>
<text x="308.3" y="358.8" font-size="10" text-anchor="middle" fill="#111">0</text>
<line x1="308.3" y1="345" x2="308.3" y2="347" stroke="#222" stroke-width="0.9"/>
<text x="339.3" y="358.8" font-size="10" text-anchor="middle" fill="#111">0.5</text>
<line x1="339.3" y1="345" x2="339.3" y2="347" stroke="#222" stroke-width="0.9"/>
<text x="370.59999999999997" y="358.8" font-size="10" text-anchor="middle" fill="#111">1</text>
<line x1="370.59999999999997" y1="345" x2="370.59999999999997" y2="347" stroke="#222" stroke-width="0.9"/>
<text x="402.0" y="358.8" font-size="10" text-anchor="middle" fill="#111">2</text>
<line x1="402.0" y1="345" x2="402.0" y2="347" stroke="#222" stroke-width="0.9"/>
<text x="433.2" y="358.8" font-size="10" text-anchor="middle" fill="#111">4</text>
<line x1="433.2" y1="345" x2="433.2" y2="347" stroke="#222" stroke-width="0.9"/>
<text x="371" y="372.3" font-size="11.9" text-anchor="middle" fill="#111">Time (h)</text>
<text x="237.6" y="287.2" font-size="12.3" text-anchor="middle" fill="#111" transform="rotate(-90 237.6 287.2)">Mean Fluorescence</text>
<text x="250.2" y="287" font-size="12.3" text-anchor="middle" fill="#111" transform="rotate(-90 250.2 287)">Intensity of DCF (fold)</text>
<rect x="371.90" y="222.00" width="9.90" height="7.70" fill="#9c9c9c" stroke="#2a2a2a" stroke-width="0.9"/>
<rect x="371.90" y="234.10" width="9.90" height="7.70" fill="#000" stroke="#000" stroke-width="0.9"/>
<text x="388" y="229.2" font-size="10.5" text-anchor="start" fill="#000">Control</text>
<text x="388" y="241.6" font-size="10.5" text-anchor="start" fill="#000">Baicalin (40 µM)</text>
<text transform="translate(504.97 218.8) scale(0.779 1)" font-size="16.5" fill="#000">F</text>
<line x1="546.2" y1="235.91999999999996" x2="546.2" y2="338.4" stroke="#5a5a5a" stroke-width="1.1"/>
<line x1="544.0" y1="338.4" x2="546.2" y2="338.4" stroke="#222" stroke-width="0.9"/>
<text x="540.0" y="341.85" font-size="10" text-anchor="end" fill="#111">0</text>
<line x1="544.0" y1="321.32" x2="546.2" y2="321.32" stroke="#222" stroke-width="0.9"/>
<text x="540.0" y="324.77" font-size="10" text-anchor="end" fill="#111">10</text>
<line x1="544.0" y1="304.24" x2="546.2" y2="304.24" stroke="#222" stroke-width="0.9"/>
<text x="540.0" y="307.69" font-size="10" text-anchor="end" fill="#111">20</text>
<line x1="544.0" y1="287.15999999999997" x2="546.2" y2="287.15999999999997" stroke="#222" stroke-width="0.9"/>
<text x="540.0" y="290.61" font-size="10" text-anchor="end" fill="#111">30</text>
<line x1="544.0" y1="270.08" x2="546.2" y2="270.08" stroke="#222" stroke-width="0.9"/>
<text x="540.0" y="273.53" font-size="10" text-anchor="end" fill="#111">40</text>
<line x1="544.0" y1="253.0" x2="546.2" y2="253.0" stroke="#222" stroke-width="0.9"/>
<text x="540.0" y="256.45" font-size="10" text-anchor="end" fill="#111">50</text>
<line x1="544.0" y1="235.91999999999996" x2="546.2" y2="235.91999999999996" stroke="#222" stroke-width="0.9"/>
<text x="540.0" y="239.37" font-size="10" text-anchor="end" fill="#111">60</text>
<rect x="559.85" y="292.22" width="8.80" height="46.18" fill="#fff" stroke="#2a2a2a" stroke-width="0.9"/>
<line x1="564.25" y1="291.7716" x2="564.25" y2="289.20959999999997" stroke="#2a2a2a" stroke-width="0.9"/>
<line x1="561.25" y1="289.20959999999997" x2="567.25" y2="289.20959999999997" stroke="#2a2a2a" stroke-width="0.9"/>
<line x1="573.9499999999999" y1="290.06359999999995" x2="573.9499999999999" y2="285.28119999999996" stroke="#2a2a2a" stroke-width="0.9"/>
<line x1="570.9499999999999" y1="285.28119999999996" x2="576.9499999999999" y2="285.28119999999996" stroke="#2a2a2a" stroke-width="0.9"/>
<rect x="569.85" y="290.51" width="8.50" height="47.89" fill="#000" stroke="#000" stroke-width="0.9"/>
<rect x="582.85" y="296.15" width="8.80" height="42.25" fill="#fff" stroke="#2a2a2a" stroke-width="0.9"/>
<line x1="587.25" y1="295.7" x2="587.25" y2="289.20959999999997" stroke="#2a2a2a" stroke-width="0.9"/>
<line x1="584.25" y1="289.20959999999997" x2="590.25" y2="289.20959999999997" stroke="#2a2a2a" stroke-width="0.9"/>
<line x1="596.9499999999999" y1="261.0276" x2="596.9499999999999" y2="258.6364" stroke="#2a2a2a" stroke-width="0.9"/>
<line x1="593.9499999999999" y1="258.6364" x2="599.9499999999999" y2="258.6364" stroke="#2a2a2a" stroke-width="0.9"/>
<rect x="592.85" y="261.48" width="8.50" height="76.92" fill="#000" stroke="#000" stroke-width="0.9"/>
<text x="596.9499999999999" y="259.97" font-size="8.6" text-anchor="middle" fill="#7a7a7a" stroke="#7a7a7a" stroke-width="0.25">***</text>
<rect x="605.75" y="291.37" width="8.80" height="47.03" fill="#fff" stroke="#2a2a2a" stroke-width="0.9"/>
<line x1="610.15" y1="290.9176" x2="610.15" y2="284.42719999999997" stroke="#2a2a2a" stroke-width="0.9"/>
<line x1="607.15" y1="284.42719999999997" x2="613.15" y2="284.42719999999997" stroke="#2a2a2a" stroke-width="0.9"/>
<line x1="619.8499999999999" y1="255.0496" x2="619.8499999999999" y2="254.02479999999997" stroke="#2a2a2a" stroke-width="0.9"/>
<line x1="616.8499999999999" y1="254.02479999999997" x2="622.8499999999999" y2="254.02479999999997" stroke="#2a2a2a" stroke-width="0.9"/>
<rect x="615.75" y="255.50" width="8.50" height="82.90" fill="#000" stroke="#000" stroke-width="0.9"/>
<text x="619.8499999999999" y="255.35" font-size="8.6" text-anchor="middle" fill="#7a7a7a" stroke="#7a7a7a" stroke-width="0.25">***</text>
<rect x="628.75" y="297.52" width="8.80" height="40.88" fill="#fff" stroke="#2a2a2a" stroke-width="0.9"/>
<line x1="633.15" y1="297.0664" x2="633.15" y2="295.0168" stroke="#2a2a2a" stroke-width="0.9"/>
<line x1="630.15" y1="295.0168" x2="636.15" y2="295.0168" stroke="#2a2a2a" stroke-width="0.9"/>
<line x1="642.8499999999999" y1="253.85399999999998" x2="642.8499999999999" y2="252.3168" stroke="#2a2a2a" stroke-width="0.9"/>
<line x1="639.8499999999999" y1="252.3168" x2="645.8499999999999" y2="252.3168" stroke="#2a2a2a" stroke-width="0.9"/>
<rect x="638.75" y="254.30" width="8.50" height="84.10" fill="#000" stroke="#000" stroke-width="0.9"/>
<text x="642.8499999999999" y="253.65" font-size="8.6" text-anchor="middle" fill="#7a7a7a" stroke="#7a7a7a" stroke-width="0.25">***</text>
<rect x="651.65" y="297.52" width="8.80" height="40.88" fill="#fff" stroke="#2a2a2a" stroke-width="0.9"/>
<line x1="656.0500000000001" y1="297.0664" x2="656.0500000000001" y2="295.1876" stroke="#2a2a2a" stroke-width="0.9"/>
<line x1="653.0500000000001" y1="295.1876" x2="659.0500000000001" y2="295.1876" stroke="#2a2a2a" stroke-width="0.9"/>
<line x1="665.75" y1="273.496" x2="665.75" y2="271.9588" stroke="#2a2a2a" stroke-width="0.9"/>
<line x1="662.75" y1="271.9588" x2="668.75" y2="271.9588" stroke="#2a2a2a" stroke-width="0.9"/>
<rect x="661.65" y="273.95" width="8.50" height="64.45" fill="#000" stroke="#000" stroke-width="0.9"/>
<text x="665.75" y="273.29" font-size="8.6" text-anchor="middle" fill="#7a7a7a" stroke="#7a7a7a" stroke-width="0.25">***</text>
<line x1="545.7" y1="338.4" x2="680.5" y2="338.4" stroke="#222" stroke-width="1"/>
<text x="569.1" y="351.2" font-size="10" text-anchor="middle" fill="#111">0</text>
<text x="592.1" y="351.2" font-size="10" text-anchor="middle" fill="#111">4</text>
<text x="615.0" y="351.2" font-size="10" text-anchor="middle" fill="#111">12</text>
<text x="638.0" y="351.2" font-size="10" text-anchor="middle" fill="#111">24</text>
<text x="660.9000000000001" y="351.2" font-size="10" text-anchor="middle" fill="#111">48</text>
<text x="615" y="367" font-size="11.8" text-anchor="middle" fill="#111">Time (h)</text>
<text x="520.8" y="287.2" font-size="11.4" text-anchor="middle" fill="#111" transform="rotate(-90 520.8 287.2)">SOD (Unit/mg)</text>
<rect x="551.60" y="229.80" width="9.00" height="6.90" fill="#fff" stroke="#2a2a2a" stroke-width="0.9"/>
<rect x="551.60" y="240.80" width="9.00" height="6.90" fill="#000" stroke="#000" stroke-width="0.9"/>
<text x="564" y="236" font-size="9.7" text-anchor="start" fill="#000">Control</text>
<text x="564" y="246.8" font-size="9.7" text-anchor="start" fill="#000">Baicalin (40 µM)</text>
<text transform="translate(1.08 404.9) scale(0.876 1)" font-size="16.5" fill="#000">G</text>
<text x="59.5" y="419.7" font-size="10.4" text-anchor="middle" fill="#111">Control</text>
<text x="213.8" y="402.2" font-size="10.6" text-anchor="middle" fill="#111">Baicalin (µM)</text>
<line x1="130.7" y1="409.2" x2="296.8" y2="409.2" stroke="#555" stroke-width="1"/>
<text x="130.7" y="419.6" font-size="10.4" text-anchor="start" fill="#111">10</text>
<text x="213.2" y="419.6" font-size="10.4" text-anchor="middle" fill="#111">20</text>
<text x="296.8" y="419.6" font-size="10.4" text-anchor="end" fill="#111">40</text>
<text x="16.6" y="460.7" font-size="10.2" text-anchor="middle" fill="#111" transform="rotate(-90 16.6 460.7)">DAPI</text>
<text x="16.6" y="534" font-size="9.5" text-anchor="middle" fill="#111" transform="rotate(-90 16.6 534)">γH2AX</text>
<text x="16.6" y="613.8" font-size="10.2" text-anchor="middle" fill="#111" transform="rotate(-90 16.6 613.8)">Merge</text>
<defs>
<filter id="b1" x="-5%" y="-5%" width="110%" height="110%"><feGaussianBlur stdDeviation="0.65"/></filter>
<filter id="b2" x="-5%" y="-5%" width="110%" height="110%"><feGaussianBlur stdDeviation="0.95"/></filter>
<filter id="b15" x="-5%" y="-5%" width="110%" height="110%"><feGaussianBlur stdDeviation="0.8"/></filter>
<linearGradient id="gd4" x1="0" y1="0" x2="0" y2="1"><stop offset="0" stop-color="#0a0a2e"/><stop offset="0.45" stop-color="#05051a"/><stop offset="1" stop-color="#04040f"/></linearGradient>
<filter id="b3" x="-5%" y="-5%" width="110%" height="110%"><feGaussianBlur stdDeviation="1.6"/></filter>
<clipPath id="cg00"><rect x="21.8" y="422.1" width="74.3" height="74.4"/></clipPath>
<clipPath id="cg01"><rect x="98.9" y="422.1" width="74.3" height="74.4"/></clipPath>
<clipPath id="cg02"><rect x="176.0" y="422.1" width="74.3" height="74.4"/></clipPath>
<clipPath id="cg03"><rect x="253.0" y="422.1" width="74.3" height="74.4"/></clipPath>
<clipPath id="cg10"><rect x="21.8" y="499.2" width="74.3" height="74.4"/></clipPath>
<clipPath id="cg11"><rect x="98.9" y="499.2" width="74.3" height="74.4"/></clipPath>
<clipPath id="cg12"><rect x="176.0" y="499.2" width="74.3" height="74.4"/></clipPath>
<clipPath id="cg13"><rect x="253.0" y="499.2" width="74.3" height="74.4"/></clipPath>
<clipPath id="cg20"><rect x="21.8" y="576.2" width="74.3" height="74.4"/></clipPath>
<clipPath id="cg21"><rect x="98.9" y="576.2" width="74.3" height="74.4"/></clipPath>
<clipPath id="cg22"><rect x="176.0" y="576.2" width="74.3" height="74.4"/></clipPath>
<clipPath id="cg23"><rect x="253.0" y="576.2" width="74.3" height="74.4"/></clipPath>
<radialGradient id="gh" cx="50%" cy="45%" r="75%"><stop offset="0" stop-color="#171346"/><stop offset="0.6" stop-color="#14103a"/><stop offset="1" stop-color="#0d0a28"/></radialGradient>
<radialGradient id="gh3" cx="60%" cy="35%" r="80%"><stop offset="0" stop-color="#201046"/><stop offset="0.6" stop-color="#160e3c"/><stop offset="1" stop-color="#0e092a"/></radialGradient>
</defs>
<rect x="21.80" y="422.10" width="74.30" height="74.40" fill="#06050b"/>
<g clip-path="url(#cg00)"><g filter="url(#b1)">
<circle cx="38.4" cy="427.9" r="1.45" fill="#1818c0"/>
<circle cx="40.2" cy="429.7" r="1.45" fill="#1818c0"/>
<circle cx="42.0" cy="431.5" r="1.45" fill="#1818c0"/>
<circle cx="46.3" cy="426.0" r="1.45" fill="#1818c0"/>
<circle cx="35.9" cy="434.6" r="1.45" fill="#2020e8"/>
<circle cx="27.9" cy="443.2" r="1.45" fill="#1818c0"/>
<circle cx="26.7" cy="446.3" r="1.45" fill="#1818c0"/>
<circle cx="29.8" cy="447.5" r="1.45" fill="#1818c0"/>
<circle cx="23.6" cy="445.7" r="1.45" fill="#1818c0"/>
<circle cx="52.5" cy="451.2" r="1.70" fill="#2c2cff"/>
<circle cx="50.6" cy="451.2" r="1.45" fill="#2020e8"/>
<circle cx="39.6" cy="461.6" r="1.45" fill="#1818c0"/>
<circle cx="24.3" cy="469.6" r="1.45" fill="#1818c0"/>
<circle cx="27.3" cy="470.2" r="1.45" fill="#1818c0"/>
<circle cx="35.9" cy="476.9" r="1.45" fill="#1818c0"/>
<circle cx="37.1" cy="480.0" r="1.45" fill="#1818c0"/>
<circle cx="43.9" cy="482.5" r="1.70" fill="#2c2cff"/>
<circle cx="39.0" cy="484.3" r="1.45" fill="#1818c0"/>
<circle cx="30.4" cy="486.1" r="1.45" fill="#1818c0"/>
<circle cx="36.5" cy="493.5" r="1.45" fill="#1818c0"/>
<circle cx="55.5" cy="481.2" r="1.45" fill="#1818c0"/>
<circle cx="59.8" cy="477.6" r="1.45" fill="#1818c0"/>
<circle cx="59.2" cy="460.4" r="1.45" fill="#1818c0"/>
<circle cx="61.7" cy="462.2" r="1.45" fill="#1818c0"/>
<circle cx="60.5" cy="445.7" r="1.45" fill="#1818c0"/>
<circle cx="62.9" cy="448.7" r="1.45" fill="#1818c0"/>
<circle cx="66.0" cy="447.5" r="1.45" fill="#1818c0"/>
<circle cx="63.5" cy="452.4" r="1.45" fill="#1818c0"/>
<circle cx="59.2" cy="449.3" r="1.45" fill="#1818c0"/>
<circle cx="66.6" cy="450.6" r="1.45" fill="#1818c0"/>
<circle cx="64.7" cy="433.4" r="1.45" fill="#1818c0"/>
<circle cx="67.8" cy="432.2" r="1.45" fill="#1818c0"/>
<circle cx="70.9" cy="434.6" r="1.45" fill="#1818c0"/>
<circle cx="73.9" cy="432.2" r="1.45" fill="#1818c0"/>
<circle cx="76.4" cy="434.6" r="1.70" fill="#2c2cff"/>
<circle cx="65.4" cy="437.7" r="1.45" fill="#1818c0"/>
<circle cx="70.3" cy="436.5" r="1.45" fill="#1818c0"/>
<circle cx="81.3" cy="424.2" r="1.45" fill="#1818c0"/>
<circle cx="85.0" cy="426.0" r="1.45" fill="#1818c0"/>
<circle cx="88.7" cy="426.6" r="1.45" fill="#2020e8"/>
<circle cx="86.8" cy="423.6" r="1.45" fill="#1818c0"/>
<circle cx="84.4" cy="429.1" r="1.45" fill="#1818c0"/>
<circle cx="92.4" cy="432.2" r="1.45" fill="#1818c0"/>
<circle cx="93.6" cy="434.6" r="1.45" fill="#1818c0"/>
<circle cx="90.5" cy="435.2" r="1.45" fill="#1818c0"/>
<circle cx="89.9" cy="445.7" r="1.45" fill="#1818c0"/>
<circle cx="93.0" cy="448.1" r="1.70" fill="#2c2cff"/>
<circle cx="91.7" cy="452.4" r="1.45" fill="#1818c0"/>
<circle cx="88.1" cy="448.7" r="1.45" fill="#1818c0"/>
<circle cx="93.6" cy="444.4" r="1.45" fill="#1818c0"/>
<circle cx="89.9" cy="456.7" r="1.45" fill="#2020e8"/>
<circle cx="73.9" cy="460.4" r="1.45" fill="#1818c0"/>
<circle cx="68.4" cy="467.1" r="1.45" fill="#1818c0"/>
<circle cx="70.3" cy="465.3" r="1.45" fill="#1818c0"/>
<circle cx="73.9" cy="471.4" r="1.70" fill="#2c2cff"/>
<circle cx="69.0" cy="472.7" r="1.70" fill="#2c2cff"/>
<circle cx="78.2" cy="469.0" r="1.45" fill="#1818c0"/>
<circle cx="77.0" cy="476.3" r="1.45" fill="#1818c0"/>
<circle cx="80.1" cy="476.9" r="1.45" fill="#1818c0"/>
<circle cx="78.9" cy="474.5" r="1.45" fill="#1818c0"/>
<circle cx="87.4" cy="469.0" r="1.70" fill="#2c2cff"/>
<circle cx="89.3" cy="466.5" r="1.45" fill="#1818c0"/>
<circle cx="72.1" cy="484.9" r="1.45" fill="#1818c0"/>
<circle cx="73.9" cy="486.8" r="1.45" fill="#1818c0"/>
<circle cx="71.5" cy="487.4" r="1.45" fill="#1818c0"/>
<circle cx="81.9" cy="484.9" r="1.45" fill="#2020e8"/>
<circle cx="91.1" cy="489.2" r="1.45" fill="#2020e8"/>
<circle cx="82.5" cy="494.7" r="1.45" fill="#1818c0"/>
<circle cx="23.0" cy="426.0" r="1.45" fill="#1818c0"/>
<circle cx="22.4" cy="442.6" r="1.45" fill="#1818c0"/>
</g></g>
<rect x="21.80" y="499.20" width="74.30" height="74.40" fill="url(#gh)"/>
<g clip-path="url(#cg10)">
<g filter="url(#b2)">
<circle cx="38.3" cy="505.2" r="1.1" fill="#5a2440" opacity="0.52"/>
<circle cx="40.4" cy="506.8" r="1.1" fill="#7a4028" opacity="0.52"/>
<circle cx="42.2" cy="508.8" r="1.1" fill="#6a2a30" opacity="0.40"/>
<circle cx="46.6" cy="502.9" r="1.1" fill="#6a2a30" opacity="0.34"/>
<circle cx="27.9" cy="520.6" r="1.1" fill="#5a2440" opacity="0.59"/>
<circle cx="52.6" cy="528.0" r="1.1" fill="#7a4028" opacity="0.48"/>
<circle cx="50.9" cy="528.0" r="1.1" fill="#6a2a30" opacity="0.55"/>
<circle cx="24.2" cy="546.8" r="1.1" fill="#5a2440" opacity="0.34"/>
<circle cx="30.2" cy="563.3" r="1.1" fill="#8a5030" opacity="0.46"/>
<circle cx="59.5" cy="554.3" r="1.1" fill="#8a5030" opacity="0.50"/>
<circle cx="59.5" cy="537.8" r="1.1" fill="#5a2440" opacity="0.53"/>
<circle cx="61.7" cy="539.4" r="1.1" fill="#6a2a30" opacity="0.32"/>
<circle cx="62.5" cy="525.6" r="1.1" fill="#7a4028" opacity="0.52"/>
<circle cx="66.4" cy="527.9" r="1.1" fill="#8a5030" opacity="0.40"/>
<circle cx="64.4" cy="510.2" r="1.1" fill="#7a4028" opacity="0.52"/>
<circle cx="67.7" cy="509.6" r="1.1" fill="#5a2440" opacity="0.50"/>
<circle cx="71.3" cy="511.8" r="1.1" fill="#7a4028" opacity="0.51"/>
<circle cx="74.2" cy="509.6" r="1.1" fill="#7a4028" opacity="0.60"/>
<circle cx="65.0" cy="514.6" r="1.1" fill="#7a4028" opacity="0.34"/>
<circle cx="70.6" cy="513.5" r="1.1" fill="#5a2440" opacity="0.44"/>
<circle cx="81.3" cy="501.0" r="1.1" fill="#8a5030" opacity="0.43"/>
<circle cx="87.2" cy="500.5" r="1.1" fill="#5a2440" opacity="0.55"/>
<circle cx="92.1" cy="508.9" r="1.1" fill="#8a5030" opacity="0.30"/>
<circle cx="90.1" cy="512.6" r="1.1" fill="#8a5030" opacity="0.37"/>
<circle cx="89.6" cy="522.6" r="1.1" fill="#7a4028" opacity="0.56"/>
<circle cx="91.9" cy="529.5" r="1.1" fill="#6a2a30" opacity="0.57"/>
<circle cx="88.2" cy="526.1" r="1.1" fill="#6a2a30" opacity="0.35"/>
<circle cx="73.8" cy="537.4" r="1.1" fill="#5a2440" opacity="0.41"/>
<circle cx="68.2" cy="544.0" r="1.1" fill="#8a5030" opacity="0.32"/>
<circle cx="70.5" cy="542.3" r="1.1" fill="#7a4028" opacity="0.50"/>
<circle cx="73.6" cy="548.6" r="1.1" fill="#7a4028" opacity="0.42"/>
<circle cx="69.2" cy="550.0" r="1.1" fill="#7a4028" opacity="0.32"/>
<circle cx="77.1" cy="553.4" r="1.1" fill="#7a4028" opacity="0.39"/>
<circle cx="89.7" cy="543.7" r="1.1" fill="#6a2a30" opacity="0.35"/>
<circle cx="71.8" cy="564.2" r="1.1" fill="#5a2440" opacity="0.55"/>
<circle cx="82.3" cy="562.2" r="1.1" fill="#8a5030" opacity="0.37"/>
<circle cx="23.4" cy="502.9" r="1.1" fill="#7a4028" opacity="0.46"/>
<circle cx="22.5" cy="519.3" r="1.1" fill="#5a2440" opacity="0.41"/>
</g>
<g filter="url(#b2)">
<circle cx="27.3" cy="522.8" r="1.2" fill="#9a5a30" opacity="0.8"/>
<circle cx="24.3" cy="546.7" r="1.2" fill="#9a5a30" opacity="0.8"/>
<circle cx="27.3" cy="547.3" r="1.2" fill="#9a5a30" opacity="0.8"/>
<circle cx="41.4" cy="509.3" r="1.2" fill="#9a5a30" opacity="0.8"/>
<circle cx="35.9" cy="511.7" r="1.4" fill="#5a2038" opacity="0.6"/>
<circle cx="85.6" cy="503.1" r="1.2" fill="#9a5a30" opacity="0.8"/>
<circle cx="88.7" cy="503.7" r="1.2" fill="#9a5a30" opacity="0.8"/>
<circle cx="66.0" cy="526.4" r="1.4" fill="#5a2038" opacity="0.6"/>
<circle cx="52.5" cy="528.3" r="1.4" fill="#5a2038" opacity="0.6"/>
<circle cx="87.4" cy="546.1" r="1.2" fill="#9a5a30" opacity="0.8"/>
<circle cx="89.3" cy="547.3" r="1.2" fill="#9a5a30" opacity="0.8"/>
<circle cx="81.9" cy="562.0" r="1.2" fill="#9a5a30" opacity="0.8"/>
<circle cx="55.5" cy="558.3" r="1.4" fill="#5a2038" opacity="0.6"/>
<circle cx="59.8" cy="554.7" r="1.4" fill="#5a2038" opacity="0.6"/>
<circle cx="78.9" cy="546.1" r="1.4" fill="#5a2038" opacity="0.6"/>
<circle cx="77.6" cy="550.4" r="1.4" fill="#5a2038" opacity="0.6"/>
<circle cx="39.6" cy="538.7" r="1.4" fill="#5a2038" opacity="0.6"/>
<circle cx="91.7" cy="529.5" r="1.4" fill="#5a2038" opacity="0.6"/>
<circle cx="22.4" cy="519.7" r="1.4" fill="#5a2038" opacity="0.6"/>
<circle cx="35.9" cy="570.6" r="1.4" fill="#5a2038" opacity="0.6"/>
<circle cx="70.3" cy="542.4" r="1.2" fill="#9a5a30" opacity="0.8"/>
</g><g filter="url(#b1)">
<circle cx="76.4" cy="511.5" r="1.5" fill="#e08a20"/><circle cx="76.4" cy="511.5" r="0.85" fill="#fff070"/>
<circle cx="69.0" cy="549.8" r="1.9" fill="#e89a18"/><circle cx="69.0" cy="549.8" r="1.25" fill="#ffff50"/>
<circle cx="39.0" cy="561.4" r="0.95" fill="#e09028"/>
<circle cx="43.9" cy="560.2" r="0.95" fill="#e09028"/>
<circle cx="91.1" cy="566.3" r="0.95" fill="#e09028"/>
<circle cx="68.4" cy="544.2" r="0.95" fill="#e09028"/>
</g></g>
<rect x="21.80" y="576.20" width="74.30" height="74.40" fill="#0a0610"/>
<g clip-path="url(#cg20)"><g filter="url(#b1)">
<circle cx="38.4" cy="582.0" r="1.45" fill="#261b8c"/>
<circle cx="40.2" cy="583.8" r="1.45" fill="#261b8c"/>
<circle cx="42.0" cy="585.6" r="1.45" fill="#261b8c"/>
<circle cx="46.3" cy="580.1" r="1.45" fill="#261b8c"/>
<circle cx="35.9" cy="588.7" r="1.45" fill="#3023ac"/>
<circle cx="27.9" cy="597.3" r="1.45" fill="#261b8c"/>
<circle cx="26.7" cy="600.4" r="1.45" fill="#261b8c"/>
<circle cx="29.8" cy="601.6" r="1.45" fill="#261b8c"/>
<circle cx="23.6" cy="599.8" r="1.45" fill="#261b8c"/>
<circle cx="52.5" cy="605.3" r="1.70" fill="#4433d4"/>
<circle cx="50.6" cy="605.3" r="1.45" fill="#3023ac"/>
<circle cx="39.6" cy="615.7" r="1.45" fill="#261b8c"/>
<circle cx="24.3" cy="623.7" r="1.45" fill="#261b8c"/>
<circle cx="27.3" cy="624.3" r="1.45" fill="#261b8c"/>
<circle cx="35.9" cy="631.0" r="1.45" fill="#261b8c"/>
<circle cx="37.1" cy="634.1" r="1.45" fill="#261b8c"/>
<circle cx="43.9" cy="636.6" r="1.70" fill="#4433d4"/>
<circle cx="39.0" cy="638.4" r="1.45" fill="#261b8c"/>
<circle cx="30.4" cy="640.2" r="1.45" fill="#261b8c"/>
<circle cx="36.5" cy="647.6" r="1.45" fill="#261b8c"/>
<circle cx="55.5" cy="635.3" r="1.45" fill="#261b8c"/>
<circle cx="59.8" cy="631.7" r="1.45" fill="#261b8c"/>
<circle cx="59.2" cy="614.5" r="1.45" fill="#261b8c"/>
<circle cx="61.7" cy="616.3" r="1.45" fill="#261b8c"/>
<circle cx="60.5" cy="599.8" r="1.45" fill="#261b8c"/>
<circle cx="62.9" cy="602.8" r="1.45" fill="#261b8c"/>
<circle cx="66.0" cy="601.6" r="1.45" fill="#261b8c"/>
<circle cx="63.5" cy="606.5" r="1.45" fill="#261b8c"/>
<circle cx="59.2" cy="603.4" r="1.45" fill="#261b8c"/>
<circle cx="66.6" cy="604.7" r="1.45" fill="#261b8c"/>
<circle cx="64.7" cy="587.5" r="1.45" fill="#261b8c"/>
<circle cx="67.8" cy="586.3" r="1.45" fill="#261b8c"/>
<circle cx="70.9" cy="588.7" r="1.45" fill="#261b8c"/>
<circle cx="73.9" cy="586.3" r="1.45" fill="#261b8c"/>
<circle cx="76.4" cy="588.7" r="1.70" fill="#4433d4"/>
<circle cx="65.4" cy="591.8" r="1.45" fill="#261b8c"/>
<circle cx="70.3" cy="590.6" r="1.45" fill="#261b8c"/>
<circle cx="81.3" cy="578.3" r="1.45" fill="#261b8c"/>
<circle cx="85.0" cy="580.1" r="1.45" fill="#261b8c"/>
<circle cx="88.7" cy="580.7" r="1.45" fill="#3023ac"/>
<circle cx="86.8" cy="577.7" r="1.45" fill="#261b8c"/>
<circle cx="84.4" cy="583.2" r="1.45" fill="#261b8c"/>
<circle cx="92.4" cy="586.3" r="1.45" fill="#261b8c"/>
<circle cx="93.6" cy="588.7" r="1.45" fill="#261b8c"/>
<circle cx="90.5" cy="589.3" r="1.45" fill="#261b8c"/>
<circle cx="89.9" cy="599.8" r="1.45" fill="#261b8c"/>
<circle cx="93.0" cy="602.2" r="1.70" fill="#4433d4"/>
<circle cx="91.7" cy="606.5" r="1.45" fill="#261b8c"/>
<circle cx="88.1" cy="602.8" r="1.45" fill="#261b8c"/>
<circle cx="93.6" cy="598.5" r="1.45" fill="#261b8c"/>
<circle cx="89.9" cy="610.8" r="1.45" fill="#3023ac"/>
<circle cx="73.9" cy="614.5" r="1.45" fill="#261b8c"/>
<circle cx="68.4" cy="621.2" r="1.45" fill="#261b8c"/>
<circle cx="70.3" cy="619.4" r="1.45" fill="#261b8c"/>
<circle cx="73.9" cy="625.5" r="1.70" fill="#4433d4"/>
<circle cx="69.0" cy="626.8" r="1.70" fill="#4433d4"/>
<circle cx="78.2" cy="623.1" r="1.45" fill="#261b8c"/>
<circle cx="77.0" cy="630.4" r="1.45" fill="#261b8c"/>
<circle cx="80.1" cy="631.0" r="1.45" fill="#261b8c"/>
<circle cx="78.9" cy="628.6" r="1.45" fill="#261b8c"/>
<circle cx="87.4" cy="623.1" r="1.70" fill="#4433d4"/>
<circle cx="89.3" cy="620.6" r="1.45" fill="#261b8c"/>
<circle cx="72.1" cy="639.0" r="1.45" fill="#261b8c"/>
<circle cx="73.9" cy="640.9" r="1.45" fill="#261b8c"/>
<circle cx="71.5" cy="641.5" r="1.45" fill="#261b8c"/>
<circle cx="81.9" cy="639.0" r="1.45" fill="#3023ac"/>
<circle cx="91.1" cy="643.3" r="1.45" fill="#3023ac"/>
<circle cx="82.5" cy="648.8" r="1.45" fill="#261b8c"/>
<circle cx="23.0" cy="580.1" r="1.45" fill="#261b8c"/>
<circle cx="22.4" cy="596.7" r="1.45" fill="#261b8c"/>
</g></g>
<g clip-path="url(#cg20)">
<g filter="url(#b2)">
<circle cx="38.3" cy="582.2" r="1.1" fill="#5a2440" opacity="0.52"/>
<circle cx="40.4" cy="583.8" r="1.1" fill="#7a4028" opacity="0.52"/>
<circle cx="42.2" cy="585.8" r="1.1" fill="#6a2a30" opacity="0.40"/>
<circle cx="46.6" cy="579.9" r="1.1" fill="#6a2a30" opacity="0.34"/>
<circle cx="27.9" cy="597.6" r="1.1" fill="#5a2440" opacity="0.59"/>
<circle cx="52.6" cy="605.0" r="1.1" fill="#7a4028" opacity="0.48"/>
<circle cx="50.9" cy="605.0" r="1.1" fill="#6a2a30" opacity="0.55"/>
<circle cx="24.2" cy="623.8" r="1.1" fill="#5a2440" opacity="0.34"/>
<circle cx="30.2" cy="640.3" r="1.1" fill="#8a5030" opacity="0.46"/>
<circle cx="59.5" cy="631.3" r="1.1" fill="#8a5030" opacity="0.50"/>
<circle cx="59.5" cy="614.8" r="1.1" fill="#5a2440" opacity="0.53"/>
<circle cx="61.7" cy="616.4" r="1.1" fill="#6a2a30" opacity="0.32"/>
<circle cx="62.5" cy="602.6" r="1.1" fill="#7a4028" opacity="0.52"/>
<circle cx="66.4" cy="604.9" r="1.1" fill="#8a5030" opacity="0.40"/>
<circle cx="64.4" cy="587.2" r="1.1" fill="#7a4028" opacity="0.52"/>
<circle cx="67.7" cy="586.6" r="1.1" fill="#5a2440" opacity="0.50"/>
<circle cx="71.3" cy="588.8" r="1.1" fill="#7a4028" opacity="0.51"/>
<circle cx="74.2" cy="586.6" r="1.1" fill="#7a4028" opacity="0.60"/>
<circle cx="65.0" cy="591.6" r="1.1" fill="#7a4028" opacity="0.34"/>
<circle cx="70.6" cy="590.5" r="1.1" fill="#5a2440" opacity="0.44"/>
<circle cx="81.3" cy="578.0" r="1.1" fill="#8a5030" opacity="0.43"/>
<circle cx="87.2" cy="577.5" r="1.1" fill="#5a2440" opacity="0.55"/>
<circle cx="92.1" cy="585.9" r="1.1" fill="#8a5030" opacity="0.30"/>
<circle cx="90.1" cy="589.6" r="1.1" fill="#8a5030" opacity="0.37"/>
<circle cx="89.6" cy="599.6" r="1.1" fill="#7a4028" opacity="0.56"/>
<circle cx="91.9" cy="606.5" r="1.1" fill="#6a2a30" opacity="0.57"/>
<circle cx="88.2" cy="603.1" r="1.1" fill="#6a2a30" opacity="0.35"/>
<circle cx="73.8" cy="614.4" r="1.1" fill="#5a2440" opacity="0.41"/>
<circle cx="68.2" cy="621.0" r="1.1" fill="#8a5030" opacity="0.32"/>
<circle cx="70.5" cy="619.3" r="1.1" fill="#7a4028" opacity="0.50"/>
<circle cx="73.6" cy="625.6" r="1.1" fill="#7a4028" opacity="0.42"/>
<circle cx="69.2" cy="627.0" r="1.1" fill="#7a4028" opacity="0.32"/>
<circle cx="77.1" cy="630.4" r="1.1" fill="#7a4028" opacity="0.39"/>
<circle cx="89.7" cy="620.7" r="1.1" fill="#6a2a30" opacity="0.35"/>
<circle cx="71.8" cy="641.2" r="1.1" fill="#5a2440" opacity="0.55"/>
<circle cx="82.3" cy="639.2" r="1.1" fill="#8a5030" opacity="0.37"/>
<circle cx="23.4" cy="579.9" r="1.1" fill="#7a4028" opacity="0.46"/>
<circle cx="22.5" cy="596.3" r="1.1" fill="#5a2440" opacity="0.41"/>
</g>
<g filter="url(#b2)">
<circle cx="27.3" cy="599.8" r="1.2" fill="#9a5a30" opacity="0.8"/>
<circle cx="24.3" cy="623.7" r="1.2" fill="#9a5a30" opacity="0.8"/>
<circle cx="27.3" cy="624.3" r="1.2" fill="#9a5a30" opacity="0.8"/>
<circle cx="41.4" cy="586.3" r="1.2" fill="#9a5a30" opacity="0.8"/>
<circle cx="35.9" cy="588.7" r="1.4" fill="#5a2038" opacity="0.6"/>
<circle cx="85.6" cy="580.1" r="1.2" fill="#9a5a30" opacity="0.8"/>
<circle cx="88.7" cy="580.7" r="1.2" fill="#9a5a30" opacity="0.8"/>
<circle cx="66.0" cy="603.4" r="1.4" fill="#5a2038" opacity="0.6"/>
<circle cx="52.5" cy="605.3" r="1.4" fill="#5a2038" opacity="0.6"/>
<circle cx="87.4" cy="623.1" r="1.2" fill="#9a5a30" opacity="0.8"/>
<circle cx="89.3" cy="624.3" r="1.2" fill="#9a5a30" opacity="0.8"/>
<circle cx="81.9" cy="639.0" r="1.2" fill="#9a5a30" opacity="0.8"/>
<circle cx="55.5" cy="635.3" r="1.4" fill="#5a2038" opacity="0.6"/>
<circle cx="59.8" cy="631.7" r="1.4" fill="#5a2038" opacity="0.6"/>
<circle cx="78.9" cy="623.1" r="1.4" fill="#5a2038" opacity="0.6"/>
<circle cx="77.6" cy="627.4" r="1.4" fill="#5a2038" opacity="0.6"/>
<circle cx="39.6" cy="615.7" r="1.4" fill="#5a2038" opacity="0.6"/>
<circle cx="91.7" cy="606.5" r="1.4" fill="#5a2038" opacity="0.6"/>
<circle cx="22.4" cy="596.7" r="1.4" fill="#5a2038" opacity="0.6"/>
<circle cx="35.9" cy="647.6" r="1.4" fill="#5a2038" opacity="0.6"/>
<circle cx="70.3" cy="619.4" r="1.2" fill="#9a5a30" opacity="0.8"/>
</g><g filter="url(#b1)">
<circle cx="76.4" cy="588.5" r="1.5" fill="#e08a20"/><circle cx="76.4" cy="588.5" r="0.85" fill="#fff070"/>
<circle cx="69.0" cy="626.8" r="1.9" fill="#e89a18"/><circle cx="69.0" cy="626.8" r="1.25" fill="#ffff50"/>
<circle cx="39.0" cy="638.4" r="0.95" fill="#e09028"/>
<circle cx="43.9" cy="637.2" r="0.95" fill="#e09028"/>
<circle cx="91.1" cy="643.3" r="0.95" fill="#e09028"/>
<circle cx="68.4" cy="621.2" r="0.95" fill="#e09028"/>
</g></g>
<rect x="98.90" y="422.10" width="74.30" height="74.40" fill="#030d07"/>
<g clip-path="url(#cg01)"><g filter="url(#b1)">
<circle cx="114.9" cy="430.3" r="1.45" fill="#141494"/>
<circle cx="116.1" cy="434.6" r="1.45" fill="#141494"/>
<circle cx="121.6" cy="433.4" r="1.45" fill="#141494"/>
<circle cx="121.6" cy="437.1" r="1.45" fill="#141494"/>
<circle cx="120.4" cy="441.4" r="1.45" fill="#141494"/>
<circle cx="123.4" cy="442.6" r="1.45" fill="#141494"/>
<circle cx="124.7" cy="439.5" r="1.45" fill="#141494"/>
<circle cx="104.4" cy="446.9" r="1.45" fill="#141494"/>
<circle cx="110.6" cy="445.0" r="1.45" fill="#141494"/>
<circle cx="112.4" cy="448.7" r="1.45" fill="#141494"/>
<circle cx="111.2" cy="452.4" r="1.45" fill="#141494"/>
<circle cx="102.0" cy="454.2" r="1.45" fill="#141494"/>
<circle cx="105.6" cy="450.0" r="1.45" fill="#141494"/>
<circle cx="127.1" cy="447.5" r="1.45" fill="#141494"/>
<circle cx="130.2" cy="448.7" r="1.45" fill="#141494"/>
<circle cx="129.0" cy="452.4" r="1.45" fill="#1b1bb8"/>
<circle cx="132.6" cy="451.8" r="1.45" fill="#141494"/>
<circle cx="132.6" cy="456.7" r="1.45" fill="#1b1bb8"/>
<circle cx="132.0" cy="459.2" r="1.45" fill="#141494"/>
<circle cx="126.5" cy="450.6" r="1.45" fill="#141494"/>
<circle cx="140.0" cy="434.0" r="1.45" fill="#141494"/>
<circle cx="138.8" cy="437.7" r="1.45" fill="#141494"/>
<circle cx="141.8" cy="438.3" r="1.45" fill="#141494"/>
<circle cx="143.1" cy="442.0" r="1.45" fill="#141494"/>
<circle cx="141.2" cy="435.8" r="1.45" fill="#141494"/>
<circle cx="152.9" cy="435.2" r="1.45" fill="#1b1bb8"/>
<circle cx="154.1" cy="438.3" r="1.45" fill="#141494"/>
<circle cx="158.4" cy="437.1" r="1.45" fill="#141494"/>
<circle cx="160.9" cy="439.5" r="1.45" fill="#141494"/>
<circle cx="163.9" cy="435.8" r="1.45" fill="#141494"/>
<circle cx="165.8" cy="438.9" r="1.45" fill="#141494"/>
<circle cx="168.8" cy="435.2" r="1.45" fill="#141494"/>
<circle cx="162.1" cy="442.6" r="1.45" fill="#141494"/>
<circle cx="164.5" cy="443.8" r="1.45" fill="#141494"/>
<circle cx="160.9" cy="446.3" r="1.45" fill="#1b1bb8"/>
<circle cx="163.9" cy="448.1" r="1.45" fill="#1b1bb8"/>
<circle cx="161.5" cy="450.0" r="1.45" fill="#1b1bb8"/>
<circle cx="165.8" cy="450.6" r="1.45" fill="#1b1bb8"/>
<circle cx="168.8" cy="452.4" r="1.45" fill="#1b1bb8"/>
<circle cx="171.3" cy="453.6" r="1.45" fill="#1b1bb8"/>
<circle cx="164.5" cy="453.0" r="1.45" fill="#141494"/>
<circle cx="167.6" cy="455.5" r="1.45" fill="#141494"/>
<circle cx="158.4" cy="441.4" r="1.45" fill="#141494"/>
<circle cx="167.0" cy="442.0" r="1.45" fill="#141494"/>
<circle cx="151.0" cy="452.4" r="1.45" fill="#141494"/>
<circle cx="153.5" cy="451.8" r="1.45" fill="#141494"/>
<circle cx="158.4" cy="467.1" r="1.45" fill="#1b1bb8"/>
<circle cx="160.9" cy="466.5" r="1.45" fill="#1b1bb8"/>
<circle cx="157.2" cy="465.9" r="1.45" fill="#141494"/>
<circle cx="138.8" cy="467.1" r="1.45" fill="#1b1bb8"/>
<circle cx="141.8" cy="465.9" r="1.45" fill="#1b1bb8"/>
<circle cx="135.1" cy="469.0" r="1.45" fill="#141494"/>
<circle cx="137.6" cy="472.7" r="1.45" fill="#141494"/>
<circle cx="141.2" cy="471.4" r="1.45" fill="#141494"/>
<circle cx="143.1" cy="475.1" r="1.45" fill="#141494"/>
<circle cx="141.8" cy="477.6" r="1.45" fill="#141494"/>
<circle cx="146.8" cy="472.7" r="1.45" fill="#141494"/>
<circle cx="139.4" cy="474.5" r="1.45" fill="#141494"/>
<circle cx="124.7" cy="475.1" r="1.45" fill="#141494"/>
<circle cx="127.1" cy="477.6" r="1.45" fill="#1b1bb8"/>
<circle cx="129.6" cy="476.3" r="1.45" fill="#1b1bb8"/>
<circle cx="119.1" cy="480.0" r="1.45" fill="#1b1bb8"/>
<circle cx="117.9" cy="481.2" r="1.45" fill="#141494"/>
<circle cx="120.4" cy="478.8" r="1.45" fill="#141494"/>
<circle cx="117.3" cy="468.4" r="1.45" fill="#141494"/>
<circle cx="107.5" cy="465.9" r="1.45" fill="#141494"/>
<circle cx="109.9" cy="470.2" r="1.45" fill="#141494"/>
<circle cx="106.3" cy="471.4" r="1.45" fill="#141494"/>
<circle cx="105.6" cy="475.7" r="1.45" fill="#141494"/>
<circle cx="108.1" cy="477.6" r="1.45" fill="#141494"/>
<circle cx="105.0" cy="480.6" r="1.45" fill="#141494"/>
<circle cx="106.3" cy="483.1" r="1.45" fill="#141494"/>
<circle cx="110.6" cy="483.7" r="1.45" fill="#141494"/>
<circle cx="109.3" cy="486.8" r="1.45" fill="#141494"/>
<circle cx="113.0" cy="486.1" r="1.45" fill="#141494"/>
<circle cx="104.4" cy="487.4" r="1.45" fill="#141494"/>
<circle cx="115.5" cy="488.6" r="1.45" fill="#141494"/>
<circle cx="116.7" cy="492.3" r="1.45" fill="#141494"/>
<circle cx="111.8" cy="492.3" r="1.45" fill="#141494"/>
<circle cx="107.5" cy="491.1" r="1.45" fill="#141494"/>
<circle cx="103.8" cy="492.3" r="1.45" fill="#141494"/>
<circle cx="114.2" cy="477.6" r="1.45" fill="#141494"/>
<circle cx="130.8" cy="484.3" r="1.45" fill="#141494"/>
<circle cx="132.0" cy="481.2" r="1.45" fill="#141494"/>
<circle cx="130.8" cy="490.4" r="1.45" fill="#141494"/>
<circle cx="140.6" cy="489.8" r="1.45" fill="#141494"/>
<circle cx="143.1" cy="492.9" r="1.45" fill="#1b1bb8"/>
<circle cx="141.8" cy="491.7" r="1.45" fill="#141494"/>
<circle cx="125.3" cy="424.2" r="1.45" fill="#141494"/>
<circle cx="146.8" cy="423.0" r="1.45" fill="#141494"/>
</g></g>
<rect x="98.90" y="499.20" width="74.30" height="74.40" fill="url(#gh)"/>
<g clip-path="url(#cg11)">
<g filter="url(#b2)">
<circle cx="116.5" cy="512.1" r="1.1" fill="#5a2440" opacity="0.31"/>
<circle cx="121.7" cy="510.8" r="1.1" fill="#5a2440" opacity="0.51"/>
<circle cx="122.0" cy="513.8" r="1.1" fill="#6a2a30" opacity="0.35"/>
<circle cx="120.4" cy="518.2" r="1.1" fill="#8a5030" opacity="0.37"/>
<circle cx="124.3" cy="516.6" r="1.1" fill="#6a2a30" opacity="0.33"/>
<circle cx="101.9" cy="531.3" r="1.1" fill="#5a2440" opacity="0.52"/>
<circle cx="105.9" cy="526.8" r="1.1" fill="#7a4028" opacity="0.40"/>
<circle cx="127.3" cy="524.2" r="1.1" fill="#6a2a30" opacity="0.60"/>
<circle cx="130.0" cy="526.0" r="1.1" fill="#5a2440" opacity="0.51"/>
<circle cx="132.8" cy="528.9" r="1.1" fill="#5a2440" opacity="0.55"/>
<circle cx="132.9" cy="533.5" r="1.1" fill="#7a4028" opacity="0.59"/>
<circle cx="132.1" cy="536.3" r="1.1" fill="#5a2440" opacity="0.55"/>
<circle cx="126.7" cy="527.9" r="1.1" fill="#5a2440" opacity="0.54"/>
<circle cx="139.7" cy="511.3" r="1.1" fill="#5a2440" opacity="0.59"/>
<circle cx="141.6" cy="515.2" r="1.1" fill="#5a2440" opacity="0.32"/>
<circle cx="143.2" cy="519.0" r="1.1" fill="#7a4028" opacity="0.36"/>
<circle cx="152.7" cy="512.1" r="1.1" fill="#5a2440" opacity="0.36"/>
<circle cx="154.5" cy="515.7" r="1.1" fill="#8a5030" opacity="0.37"/>
<circle cx="158.8" cy="513.9" r="1.1" fill="#7a4028" opacity="0.49"/>
<circle cx="164.0" cy="513.2" r="1.1" fill="#6a2a30" opacity="0.54"/>
<circle cx="165.5" cy="516.1" r="1.1" fill="#8a5030" opacity="0.40"/>
<circle cx="162.2" cy="520.0" r="1.1" fill="#5a2440" opacity="0.49"/>
<circle cx="160.6" cy="523.5" r="1.1" fill="#6a2a30" opacity="0.40"/>
<circle cx="163.9" cy="525.3" r="1.1" fill="#8a5030" opacity="0.45"/>
<circle cx="165.7" cy="527.7" r="1.1" fill="#8a5030" opacity="0.50"/>
<circle cx="171.2" cy="530.7" r="1.1" fill="#8a5030" opacity="0.53"/>
<circle cx="164.6" cy="530.0" r="1.1" fill="#5a2440" opacity="0.43"/>
<circle cx="167.7" cy="532.3" r="1.1" fill="#7a4028" opacity="0.53"/>
<circle cx="158.8" cy="518.8" r="1.1" fill="#7a4028" opacity="0.30"/>
<circle cx="161.1" cy="543.7" r="1.1" fill="#7a4028" opacity="0.51"/>
<circle cx="157.3" cy="543.2" r="1.1" fill="#5a2440" opacity="0.40"/>
<circle cx="142.0" cy="542.9" r="1.1" fill="#8a5030" opacity="0.30"/>
<circle cx="135.2" cy="546.1" r="1.1" fill="#6a2a30" opacity="0.52"/>
<circle cx="141.6" cy="548.8" r="1.1" fill="#6a2a30" opacity="0.43"/>
<circle cx="142.8" cy="552.2" r="1.1" fill="#6a2a30" opacity="0.33"/>
<circle cx="141.5" cy="555.0" r="1.1" fill="#6a2a30" opacity="0.47"/>
<circle cx="146.5" cy="549.4" r="1.1" fill="#7a4028" opacity="0.43"/>
<circle cx="129.4" cy="553.6" r="1.1" fill="#7a4028" opacity="0.33"/>
<circle cx="117.6" cy="558.2" r="1.1" fill="#6a2a30" opacity="0.52"/>
<circle cx="120.4" cy="555.6" r="1.1" fill="#8a5030" opacity="0.51"/>
<circle cx="117.2" cy="545.3" r="1.1" fill="#6a2a30" opacity="0.36"/>
<circle cx="107.2" cy="543.0" r="1.1" fill="#6a2a30" opacity="0.57"/>
<circle cx="105.9" cy="552.6" r="1.1" fill="#8a5030" opacity="0.31"/>
<circle cx="105.1" cy="557.9" r="1.1" fill="#8a5030" opacity="0.53"/>
<circle cx="110.9" cy="560.6" r="1.1" fill="#7a4028" opacity="0.44"/>
<circle cx="109.1" cy="563.5" r="1.1" fill="#5a2440" opacity="0.56"/>
<circle cx="113.4" cy="562.9" r="1.1" fill="#7a4028" opacity="0.37"/>
<circle cx="104.4" cy="564.4" r="1.1" fill="#7a4028" opacity="0.58"/>
<circle cx="115.6" cy="565.9" r="1.1" fill="#5a2440" opacity="0.38"/>
<circle cx="103.7" cy="569.6" r="1.1" fill="#5a2440" opacity="0.39"/>
<circle cx="114.5" cy="554.7" r="1.1" fill="#7a4028" opacity="0.46"/>
<circle cx="132.2" cy="558.2" r="1.1" fill="#8a5030" opacity="0.49"/>
<circle cx="131.2" cy="567.3" r="1.1" fill="#6a2a30" opacity="0.53"/>
<circle cx="143.2" cy="570.0" r="1.1" fill="#7a4028" opacity="0.57"/>
<circle cx="142.1" cy="569.0" r="1.1" fill="#6a2a30" opacity="0.53"/>
<circle cx="147.0" cy="500.5" r="1.1" fill="#5a2440" opacity="0.52"/>
</g>
<g filter="url(#b2)">
<circle cx="122.2" cy="519.4" r="1.2" fill="#9a5a30" opacity="0.8"/>
<circle cx="124.7" cy="517.9" r="1.2" fill="#9a5a30" opacity="0.8"/>
<circle cx="153.5" cy="512.0" r="1.2" fill="#9a5a30" opacity="0.8"/>
<circle cx="112.8" cy="526.2" r="1.2" fill="#9a5a30" opacity="0.8"/>
<circle cx="105.6" cy="523.4" r="1.4" fill="#5a2038" opacity="0.6"/>
<circle cx="102.6" cy="503.7" r="2.6" fill="#5a2a22" opacity="0.8"/>
<circle cx="169.5" cy="530.1" r="1.4" fill="#5a2038" opacity="0.6"/>
<circle cx="161.5" cy="543.0" r="1.2" fill="#9a5a30" opacity="0.8"/>
<circle cx="111.2" cy="560.8" r="1.2" fill="#9a5a30" opacity="0.8"/>
<circle cx="108.7" cy="563.2" r="1.4" fill="#5a2038" opacity="0.6"/>
<circle cx="113.0" cy="563.2" r="1.4" fill="#5a2038" opacity="0.6"/>
<circle cx="104.4" cy="569.4" r="1.2" fill="#9a5a30" opacity="0.8"/>
<circle cx="131.4" cy="561.4" r="1.4" fill="#5a2038" opacity="0.6"/>
<circle cx="141.8" cy="542.4" r="1.4" fill="#5a2038" opacity="0.6"/>
<circle cx="132.6" cy="533.8" r="1.4" fill="#5a2038" opacity="0.6"/>
<circle cx="146.8" cy="549.8" r="1.4" fill="#5a2038" opacity="0.6"/>
<circle cx="112.4" cy="570.6" r="1.4" fill="#5a2038" opacity="0.6"/>
</g><g filter="url(#b1)">
<circle cx="163.3" cy="525.5" r="1.9" fill="#e89a18"/><circle cx="163.3" cy="525.5" r="1.25" fill="#ffff50"/>
<circle cx="162.9" cy="528.9" r="0.95" fill="#e09028"/>
<circle cx="105.0" cy="560.5" r="1.5" fill="#e08a20"/><circle cx="105.0" cy="560.5" r="0.85" fill="#fff070"/>
<circle cx="130.2" cy="553.2" r="0.95" fill="#e09028"/>
<circle cx="127.1" cy="555.0" r="0.95" fill="#e09028"/>
<circle cx="119.8" cy="557.7" r="0.95" fill="#e09028"/>
<circle cx="141.2" cy="556.3" r="0.95" fill="#e09028"/>
<circle cx="126.5" cy="524.0" r="0.95" fill="#e09028"/>
<circle cx="129.0" cy="529.9" r="0.95" fill="#e09028"/>
<circle cx="154.1" cy="515.2" r="0.95" fill="#e09028"/>
</g></g>
<rect x="98.90" y="576.20" width="74.30" height="74.40" fill="#0b0711"/>
<g clip-path="url(#cg21)"><g filter="url(#b1)">
<circle cx="114.9" cy="584.4" r="1.45" fill="#261b8c"/>
<circle cx="116.1" cy="588.7" r="1.45" fill="#261b8c"/>
<circle cx="121.6" cy="587.5" r="1.45" fill="#261b8c"/>
<circle cx="121.6" cy="591.2" r="1.45" fill="#261b8c"/>
<circle cx="120.4" cy="595.5" r="1.45" fill="#261b8c"/>
<circle cx="123.4" cy="596.7" r="1.45" fill="#261b8c"/>
<circle cx="124.7" cy="593.6" r="1.45" fill="#261b8c"/>
<circle cx="104.4" cy="601.0" r="1.45" fill="#261b8c"/>
<circle cx="110.6" cy="599.1" r="1.45" fill="#261b8c"/>
<circle cx="112.4" cy="602.8" r="1.45" fill="#261b8c"/>
<circle cx="111.2" cy="606.5" r="1.45" fill="#261b8c"/>
<circle cx="102.0" cy="608.3" r="1.45" fill="#261b8c"/>
<circle cx="105.6" cy="604.1" r="1.45" fill="#261b8c"/>
<circle cx="127.1" cy="601.6" r="1.45" fill="#261b8c"/>
<circle cx="130.2" cy="602.8" r="1.45" fill="#261b8c"/>
<circle cx="129.0" cy="606.5" r="1.45" fill="#3023ac"/>
<circle cx="132.6" cy="605.9" r="1.45" fill="#261b8c"/>
<circle cx="132.6" cy="610.8" r="1.45" fill="#3023ac"/>
<circle cx="132.0" cy="613.3" r="1.45" fill="#261b8c"/>
<circle cx="126.5" cy="604.7" r="1.45" fill="#261b8c"/>
<circle cx="140.0" cy="588.1" r="1.45" fill="#261b8c"/>
<circle cx="138.8" cy="591.8" r="1.45" fill="#261b8c"/>
<circle cx="141.8" cy="592.4" r="1.45" fill="#261b8c"/>
<circle cx="143.1" cy="596.1" r="1.45" fill="#261b8c"/>
<circle cx="141.2" cy="589.9" r="1.45" fill="#261b8c"/>
<circle cx="152.9" cy="589.3" r="1.45" fill="#3023ac"/>
<circle cx="154.1" cy="592.4" r="1.45" fill="#261b8c"/>
<circle cx="158.4" cy="591.2" r="1.45" fill="#261b8c"/>
<circle cx="160.9" cy="593.6" r="1.45" fill="#261b8c"/>
<circle cx="163.9" cy="589.9" r="1.45" fill="#261b8c"/>
<circle cx="165.8" cy="593.0" r="1.45" fill="#261b8c"/>
<circle cx="168.8" cy="589.3" r="1.45" fill="#261b8c"/>
<circle cx="162.1" cy="596.7" r="1.45" fill="#261b8c"/>
<circle cx="164.5" cy="597.9" r="1.45" fill="#261b8c"/>
<circle cx="160.9" cy="600.4" r="1.45" fill="#3023ac"/>
<circle cx="163.9" cy="602.2" r="1.45" fill="#3023ac"/>
<circle cx="161.5" cy="604.1" r="1.45" fill="#3023ac"/>
<circle cx="165.8" cy="604.7" r="1.45" fill="#3023ac"/>
<circle cx="168.8" cy="606.5" r="1.45" fill="#3023ac"/>
<circle cx="171.3" cy="607.7" r="1.45" fill="#3023ac"/>
<circle cx="164.5" cy="607.1" r="1.45" fill="#261b8c"/>
<circle cx="167.6" cy="609.6" r="1.45" fill="#261b8c"/>
<circle cx="158.4" cy="595.5" r="1.45" fill="#261b8c"/>
<circle cx="167.0" cy="596.1" r="1.45" fill="#261b8c"/>
<circle cx="151.0" cy="606.5" r="1.45" fill="#261b8c"/>
<circle cx="153.5" cy="605.9" r="1.45" fill="#261b8c"/>
<circle cx="158.4" cy="621.2" r="1.45" fill="#3023ac"/>
<circle cx="160.9" cy="620.6" r="1.45" fill="#3023ac"/>
<circle cx="157.2" cy="620.0" r="1.45" fill="#261b8c"/>
<circle cx="138.8" cy="621.2" r="1.45" fill="#3023ac"/>
<circle cx="141.8" cy="620.0" r="1.45" fill="#3023ac"/>
<circle cx="135.1" cy="623.1" r="1.45" fill="#261b8c"/>
<circle cx="137.6" cy="626.8" r="1.45" fill="#261b8c"/>
<circle cx="141.2" cy="625.5" r="1.45" fill="#261b8c"/>
<circle cx="143.1" cy="629.2" r="1.45" fill="#261b8c"/>
<circle cx="141.8" cy="631.7" r="1.45" fill="#261b8c"/>
<circle cx="146.8" cy="626.8" r="1.45" fill="#261b8c"/>
<circle cx="139.4" cy="628.6" r="1.45" fill="#261b8c"/>
<circle cx="124.7" cy="629.2" r="1.45" fill="#261b8c"/>
<circle cx="127.1" cy="631.7" r="1.45" fill="#3023ac"/>
<circle cx="129.6" cy="630.4" r="1.45" fill="#3023ac"/>
<circle cx="119.1" cy="634.1" r="1.45" fill="#3023ac"/>
<circle cx="117.9" cy="635.3" r="1.45" fill="#261b8c"/>
<circle cx="120.4" cy="632.9" r="1.45" fill="#261b8c"/>
<circle cx="117.3" cy="622.5" r="1.45" fill="#261b8c"/>
<circle cx="107.5" cy="620.0" r="1.45" fill="#261b8c"/>
<circle cx="109.9" cy="624.3" r="1.45" fill="#261b8c"/>
<circle cx="106.3" cy="625.5" r="1.45" fill="#261b8c"/>
<circle cx="105.6" cy="629.8" r="1.45" fill="#261b8c"/>
<circle cx="108.1" cy="631.7" r="1.45" fill="#261b8c"/>
<circle cx="105.0" cy="634.7" r="1.45" fill="#261b8c"/>
<circle cx="106.3" cy="637.2" r="1.45" fill="#261b8c"/>
<circle cx="110.6" cy="637.8" r="1.45" fill="#261b8c"/>
<circle cx="109.3" cy="640.9" r="1.45" fill="#261b8c"/>
<circle cx="113.0" cy="640.2" r="1.45" fill="#261b8c"/>
<circle cx="104.4" cy="641.5" r="1.45" fill="#261b8c"/>
<circle cx="115.5" cy="642.7" r="1.45" fill="#261b8c"/>
<circle cx="116.7" cy="646.4" r="1.45" fill="#261b8c"/>
<circle cx="111.8" cy="646.4" r="1.45" fill="#261b8c"/>
<circle cx="107.5" cy="645.2" r="1.45" fill="#261b8c"/>
<circle cx="103.8" cy="646.4" r="1.45" fill="#261b8c"/>
<circle cx="114.2" cy="631.7" r="1.45" fill="#261b8c"/>
<circle cx="130.8" cy="638.4" r="1.45" fill="#261b8c"/>
<circle cx="132.0" cy="635.3" r="1.45" fill="#261b8c"/>
<circle cx="130.8" cy="644.5" r="1.45" fill="#261b8c"/>
<circle cx="140.6" cy="643.9" r="1.45" fill="#261b8c"/>
<circle cx="143.1" cy="647.0" r="1.45" fill="#3023ac"/>
<circle cx="141.8" cy="645.8" r="1.45" fill="#261b8c"/>
<circle cx="125.3" cy="578.3" r="1.45" fill="#261b8c"/>
<circle cx="146.8" cy="577.1" r="1.45" fill="#261b8c"/>
</g></g>
<g clip-path="url(#cg21)">
<g filter="url(#b2)">
<circle cx="116.5" cy="589.1" r="1.1" fill="#5a2440" opacity="0.31"/>
<circle cx="121.7" cy="587.8" r="1.1" fill="#5a2440" opacity="0.51"/>
<circle cx="122.0" cy="590.8" r="1.1" fill="#6a2a30" opacity="0.35"/>
<circle cx="120.4" cy="595.2" r="1.1" fill="#8a5030" opacity="0.37"/>
<circle cx="124.3" cy="593.6" r="1.1" fill="#6a2a30" opacity="0.33"/>
<circle cx="101.9" cy="608.3" r="1.1" fill="#5a2440" opacity="0.52"/>
<circle cx="105.9" cy="603.8" r="1.1" fill="#7a4028" opacity="0.40"/>
<circle cx="127.3" cy="601.2" r="1.1" fill="#6a2a30" opacity="0.60"/>
<circle cx="130.0" cy="603.0" r="1.1" fill="#5a2440" opacity="0.51"/>
<circle cx="132.8" cy="605.9" r="1.1" fill="#5a2440" opacity="0.55"/>
<circle cx="132.9" cy="610.5" r="1.1" fill="#7a4028" opacity="0.59"/>
<circle cx="132.1" cy="613.3" r="1.1" fill="#5a2440" opacity="0.55"/>
<circle cx="126.7" cy="604.9" r="1.1" fill="#5a2440" opacity="0.54"/>
<circle cx="139.7" cy="588.3" r="1.1" fill="#5a2440" opacity="0.59"/>
<circle cx="141.6" cy="592.2" r="1.1" fill="#5a2440" opacity="0.32"/>
<circle cx="143.2" cy="596.0" r="1.1" fill="#7a4028" opacity="0.36"/>
<circle cx="152.7" cy="589.1" r="1.1" fill="#5a2440" opacity="0.36"/>
<circle cx="154.5" cy="592.7" r="1.1" fill="#8a5030" opacity="0.37"/>
<circle cx="158.8" cy="590.9" r="1.1" fill="#7a4028" opacity="0.49"/>
<circle cx="164.0" cy="590.2" r="1.1" fill="#6a2a30" opacity="0.54"/>
<circle cx="165.5" cy="593.1" r="1.1" fill="#8a5030" opacity="0.40"/>
<circle cx="162.2" cy="597.0" r="1.1" fill="#5a2440" opacity="0.49"/>
<circle cx="160.6" cy="600.5" r="1.1" fill="#6a2a30" opacity="0.40"/>
<circle cx="163.9" cy="602.3" r="1.1" fill="#8a5030" opacity="0.45"/>
<circle cx="165.7" cy="604.7" r="1.1" fill="#8a5030" opacity="0.50"/>
<circle cx="171.2" cy="607.7" r="1.1" fill="#8a5030" opacity="0.53"/>
<circle cx="164.6" cy="607.0" r="1.1" fill="#5a2440" opacity="0.43"/>
<circle cx="167.7" cy="609.3" r="1.1" fill="#7a4028" opacity="0.53"/>
<circle cx="158.8" cy="595.8" r="1.1" fill="#7a4028" opacity="0.30"/>
<circle cx="161.1" cy="620.7" r="1.1" fill="#7a4028" opacity="0.51"/>
<circle cx="157.3" cy="620.2" r="1.1" fill="#5a2440" opacity="0.40"/>
<circle cx="142.0" cy="619.9" r="1.1" fill="#8a5030" opacity="0.30"/>
<circle cx="135.2" cy="623.1" r="1.1" fill="#6a2a30" opacity="0.52"/>
<circle cx="141.6" cy="625.8" r="1.1" fill="#6a2a30" opacity="0.43"/>
<circle cx="142.8" cy="629.2" r="1.1" fill="#6a2a30" opacity="0.33"/>
<circle cx="141.5" cy="632.0" r="1.1" fill="#6a2a30" opacity="0.47"/>
<circle cx="146.5" cy="626.4" r="1.1" fill="#7a4028" opacity="0.43"/>
<circle cx="129.4" cy="630.6" r="1.1" fill="#7a4028" opacity="0.33"/>
<circle cx="117.6" cy="635.2" r="1.1" fill="#6a2a30" opacity="0.52"/>
<circle cx="120.4" cy="632.6" r="1.1" fill="#8a5030" opacity="0.51"/>
<circle cx="117.2" cy="622.3" r="1.1" fill="#6a2a30" opacity="0.36"/>
<circle cx="107.2" cy="620.0" r="1.1" fill="#6a2a30" opacity="0.57"/>
<circle cx="105.9" cy="629.6" r="1.1" fill="#8a5030" opacity="0.31"/>
<circle cx="105.1" cy="634.9" r="1.1" fill="#8a5030" opacity="0.53"/>
<circle cx="110.9" cy="637.6" r="1.1" fill="#7a4028" opacity="0.44"/>
<circle cx="109.1" cy="640.5" r="1.1" fill="#5a2440" opacity="0.56"/>
<circle cx="113.4" cy="639.9" r="1.1" fill="#7a4028" opacity="0.37"/>
<circle cx="104.4" cy="641.4" r="1.1" fill="#7a4028" opacity="0.58"/>
<circle cx="115.6" cy="642.9" r="1.1" fill="#5a2440" opacity="0.38"/>
<circle cx="103.7" cy="646.6" r="1.1" fill="#5a2440" opacity="0.39"/>
<circle cx="114.5" cy="631.7" r="1.1" fill="#7a4028" opacity="0.46"/>
<circle cx="132.2" cy="635.2" r="1.1" fill="#8a5030" opacity="0.49"/>
<circle cx="131.2" cy="644.3" r="1.1" fill="#6a2a30" opacity="0.53"/>
<circle cx="143.2" cy="647.0" r="1.1" fill="#7a4028" opacity="0.57"/>
<circle cx="142.1" cy="646.0" r="1.1" fill="#6a2a30" opacity="0.53"/>
<circle cx="147.0" cy="577.5" r="1.1" fill="#5a2440" opacity="0.52"/>
</g>
<g filter="url(#b2)">
<circle cx="122.2" cy="596.4" r="1.2" fill="#9a5a30" opacity="0.8"/>
<circle cx="124.7" cy="594.9" r="1.2" fill="#9a5a30" opacity="0.8"/>
<circle cx="153.5" cy="589.0" r="1.2" fill="#9a5a30" opacity="0.8"/>
<circle cx="112.8" cy="603.2" r="1.2" fill="#9a5a30" opacity="0.8"/>
<circle cx="105.6" cy="600.4" r="1.4" fill="#5a2038" opacity="0.6"/>
<circle cx="102.6" cy="580.7" r="2.6" fill="#5a2a22" opacity="0.8"/>
<circle cx="169.5" cy="607.1" r="1.4" fill="#5a2038" opacity="0.6"/>
<circle cx="161.5" cy="620.0" r="1.2" fill="#9a5a30" opacity="0.8"/>
<circle cx="111.2" cy="637.8" r="1.2" fill="#9a5a30" opacity="0.8"/>
<circle cx="108.7" cy="640.2" r="1.4" fill="#5a2038" opacity="0.6"/>
<circle cx="113.0" cy="640.2" r="1.4" fill="#5a2038" opacity="0.6"/>
<circle cx="104.4" cy="646.4" r="1.2" fill="#9a5a30" opacity="0.8"/>
<circle cx="131.4" cy="638.4" r="1.4" fill="#5a2038" opacity="0.6"/>
<circle cx="141.8" cy="619.4" r="1.4" fill="#5a2038" opacity="0.6"/>
<circle cx="132.6" cy="610.8" r="1.4" fill="#5a2038" opacity="0.6"/>
<circle cx="146.8" cy="626.8" r="1.4" fill="#5a2038" opacity="0.6"/>
<circle cx="112.4" cy="647.6" r="1.4" fill="#5a2038" opacity="0.6"/>
</g><g filter="url(#b1)">
<circle cx="163.3" cy="602.5" r="1.9" fill="#e89a18"/><circle cx="163.3" cy="602.5" r="1.25" fill="#ffff50"/>
<circle cx="162.9" cy="605.9" r="0.95" fill="#e09028"/>
<circle cx="105.0" cy="637.5" r="1.5" fill="#e08a20"/><circle cx="105.0" cy="637.5" r="0.85" fill="#fff070"/>
<circle cx="130.2" cy="630.2" r="0.95" fill="#e09028"/>
<circle cx="127.1" cy="632.0" r="0.95" fill="#e09028"/>
<circle cx="119.8" cy="634.7" r="0.95" fill="#e09028"/>
<circle cx="141.2" cy="633.3" r="0.95" fill="#e09028"/>
<circle cx="126.5" cy="601.0" r="0.95" fill="#e09028"/>
<circle cx="129.0" cy="606.9" r="0.95" fill="#e09028"/>
<circle cx="154.1" cy="592.2" r="0.95" fill="#e09028"/>
</g></g>
<rect x="176.00" y="422.10" width="74.30" height="74.40" fill="#02020e"/>
<g clip-path="url(#cg02)"><g filter="url(#b15)">
<circle cx="179.7" cy="425.4" r="1.45" fill="#1e1ee0"/>
<circle cx="182.7" cy="426.6" r="1.45" fill="#1e1ee0"/>
<circle cx="180.9" cy="429.1" r="1.45" fill="#1515b0"/>
<circle cx="185.2" cy="427.9" r="1.45" fill="#1515b0"/>
<circle cx="184.6" cy="430.9" r="1.45" fill="#1515b0"/>
<circle cx="204.2" cy="424.8" r="1.45" fill="#1e1ee0"/>
<circle cx="209.1" cy="424.8" r="1.45" fill="#1515b0"/>
<circle cx="218.3" cy="426.0" r="1.70" fill="#2828ff"/>
<circle cx="218.9" cy="429.1" r="1.45" fill="#1e1ee0"/>
<circle cx="217.1" cy="427.3" r="1.45" fill="#1e1ee0"/>
<circle cx="215.3" cy="430.3" r="1.45" fill="#1515b0"/>
<circle cx="195.6" cy="429.1" r="1.45" fill="#1515b0"/>
<circle cx="194.4" cy="432.2" r="1.45" fill="#1515b0"/>
<circle cx="198.7" cy="431.5" r="1.45" fill="#1515b0"/>
<circle cx="203.0" cy="430.3" r="1.45" fill="#1515b0"/>
<circle cx="206.1" cy="431.5" r="1.45" fill="#1515b0"/>
<circle cx="199.9" cy="434.6" r="1.45" fill="#1515b0"/>
<circle cx="203.0" cy="435.2" r="1.45" fill="#1515b0"/>
<circle cx="190.1" cy="438.3" r="1.70" fill="#2828ff"/>
<circle cx="189.5" cy="440.1" r="1.45" fill="#1515b0"/>
<circle cx="201.2" cy="442.6" r="1.45" fill="#1515b0"/>
<circle cx="204.8" cy="445.0" r="1.45" fill="#1515b0"/>
<circle cx="187.0" cy="448.7" r="1.70" fill="#2828ff"/>
<circle cx="182.7" cy="453.0" r="1.70" fill="#2828ff"/>
<circle cx="187.7" cy="457.9" r="1.45" fill="#1515b0"/>
<circle cx="190.1" cy="457.3" r="1.45" fill="#1515b0"/>
<circle cx="195.0" cy="456.7" r="1.45" fill="#1515b0"/>
<circle cx="194.4" cy="459.8" r="1.45" fill="#1515b0"/>
<circle cx="207.3" cy="454.9" r="1.45" fill="#1e1ee0"/>
<circle cx="209.1" cy="456.7" r="1.45" fill="#1e1ee0"/>
<circle cx="206.7" cy="459.2" r="1.45" fill="#1515b0"/>
<circle cx="210.4" cy="459.8" r="1.45" fill="#1515b0"/>
<circle cx="206.7" cy="461.6" r="1.45" fill="#1515b0"/>
<circle cx="180.3" cy="464.7" r="1.70" fill="#2828ff"/>
<circle cx="182.7" cy="465.9" r="1.45" fill="#1e1ee0"/>
<circle cx="179.1" cy="465.9" r="1.45" fill="#1e1ee0"/>
<circle cx="185.2" cy="462.8" r="1.45" fill="#1515b0"/>
<circle cx="187.0" cy="467.7" r="1.45" fill="#1515b0"/>
<circle cx="195.0" cy="469.0" r="1.45" fill="#1e1ee0"/>
<circle cx="194.4" cy="471.4" r="1.45" fill="#1e1ee0"/>
<circle cx="198.1" cy="472.0" r="1.45" fill="#1515b0"/>
<circle cx="193.2" cy="475.7" r="1.45" fill="#1515b0"/>
<circle cx="211.0" cy="470.2" r="1.70" fill="#2828ff"/>
<circle cx="212.8" cy="472.0" r="1.45" fill="#1e1ee0"/>
<circle cx="211.6" cy="468.4" r="1.45" fill="#1e1ee0"/>
<circle cx="213.4" cy="462.8" r="1.45" fill="#1515b0"/>
<circle cx="217.1" cy="461.0" r="1.45" fill="#1515b0"/>
<circle cx="211.6" cy="464.7" r="1.45" fill="#1515b0"/>
<circle cx="222.0" cy="461.6" r="1.45" fill="#1515b0"/>
<circle cx="223.2" cy="466.5" r="1.45" fill="#1515b0"/>
<circle cx="226.9" cy="467.1" r="1.45" fill="#1515b0"/>
<circle cx="219.6" cy="466.5" r="1.45" fill="#1515b0"/>
<circle cx="226.9" cy="459.2" r="1.45" fill="#1515b0"/>
<circle cx="231.2" cy="460.4" r="1.45" fill="#1515b0"/>
<circle cx="223.2" cy="453.0" r="1.45" fill="#1515b0"/>
<circle cx="233.1" cy="454.9" r="1.45" fill="#1515b0"/>
<circle cx="228.1" cy="450.0" r="1.45" fill="#1515b0"/>
<circle cx="223.2" cy="446.3" r="1.45" fill="#1515b0"/>
<circle cx="220.8" cy="444.4" r="1.45" fill="#1515b0"/>
<circle cx="217.7" cy="442.0" r="1.45" fill="#1515b0"/>
<circle cx="218.9" cy="439.5" r="1.45" fill="#1515b0"/>
<circle cx="223.2" cy="437.7" r="1.45" fill="#1515b0"/>
<circle cx="226.9" cy="445.0" r="1.45" fill="#1515b0"/>
<circle cx="231.2" cy="441.4" r="1.45" fill="#1515b0"/>
<circle cx="234.3" cy="438.9" r="1.45" fill="#1515b0"/>
<circle cx="230.6" cy="432.8" r="1.45" fill="#1515b0"/>
<circle cx="228.1" cy="428.5" r="1.45" fill="#1515b0"/>
<circle cx="233.1" cy="427.9" r="1.45" fill="#1515b0"/>
<circle cx="236.7" cy="426.0" r="1.45" fill="#1515b0"/>
<circle cx="241.0" cy="427.9" r="1.45" fill="#1515b0"/>
<circle cx="243.5" cy="431.5" r="1.45" fill="#1515b0"/>
<circle cx="245.9" cy="434.6" r="1.45" fill="#1515b0"/>
<circle cx="241.0" cy="438.3" r="1.45" fill="#1515b0"/>
<circle cx="238.0" cy="434.6" r="1.45" fill="#1515b0"/>
<circle cx="238.6" cy="448.7" r="1.45" fill="#1515b0"/>
<circle cx="236.7" cy="453.0" r="1.45" fill="#1515b0"/>
<circle cx="241.6" cy="455.5" r="1.45" fill="#1515b0"/>
<circle cx="245.3" cy="456.1" r="1.45" fill="#1515b0"/>
<circle cx="237.3" cy="459.2" r="1.45" fill="#1515b0"/>
<circle cx="242.3" cy="459.8" r="1.45" fill="#1515b0"/>
<circle cx="242.9" cy="475.1" r="1.45" fill="#1515b0"/>
<circle cx="240.4" cy="482.5" r="1.45" fill="#1515b0"/>
<circle cx="244.7" cy="483.7" r="1.45" fill="#1515b0"/>
<circle cx="185.2" cy="483.1" r="1.45" fill="#1e1ee0"/>
<circle cx="187.7" cy="485.5" r="1.70" fill="#2828ff"/>
<circle cx="188.9" cy="483.7" r="1.45" fill="#1e1ee0"/>
<circle cx="186.4" cy="486.8" r="1.45" fill="#1515b0"/>
<circle cx="222.0" cy="487.4" r="1.45" fill="#1515b0"/>
<circle cx="224.5" cy="486.1" r="1.45" fill="#1515b0"/>
<circle cx="225.7" cy="493.5" r="1.45" fill="#1515b0"/>
<circle cx="214.7" cy="448.7" r="1.45" fill="#1515b0"/>
</g></g>
<rect x="176.00" y="499.20" width="74.30" height="74.40" fill="url(#gh3)"/>
<g clip-path="url(#cg12)">
<g filter="url(#b2)">
<circle cx="179.8" cy="502.2" r="1.1" fill="#8a3030" opacity="0.50"/>
<circle cx="182.6" cy="503.7" r="1.1" fill="#8a3030" opacity="0.31"/>
<circle cx="181.0" cy="506.2" r="1.1" fill="#7a2830" opacity="0.52"/>
<circle cx="185.0" cy="504.7" r="1.1" fill="#7a2830" opacity="0.51"/>
<circle cx="204.2" cy="501.7" r="1.1" fill="#8a3030" opacity="0.46"/>
<circle cx="209.1" cy="501.9" r="1.1" fill="#7a2830" opacity="0.37"/>
<circle cx="218.2" cy="503.3" r="1.1" fill="#8a3030" opacity="0.43"/>
<circle cx="215.5" cy="507.3" r="1.1" fill="#7a2830" opacity="0.48"/>
<circle cx="194.5" cy="509.2" r="1.1" fill="#8a3030" opacity="0.53"/>
<circle cx="198.6" cy="508.8" r="1.1" fill="#8a3030" opacity="0.58"/>
<circle cx="203.1" cy="507.7" r="1.1" fill="#8a3030" opacity="0.36"/>
<circle cx="205.8" cy="508.7" r="1.1" fill="#8a3030" opacity="0.49"/>
<circle cx="200.3" cy="511.7" r="1.1" fill="#6a2038" opacity="0.34"/>
<circle cx="203.3" cy="512.2" r="1.1" fill="#8a3030" opacity="0.56"/>
<circle cx="189.9" cy="515.5" r="1.1" fill="#7a2830" opacity="0.36"/>
<circle cx="189.6" cy="517.0" r="1.1" fill="#6a2038" opacity="0.34"/>
<circle cx="204.4" cy="521.9" r="1.1" fill="#6a2038" opacity="0.35"/>
<circle cx="186.8" cy="525.8" r="1.1" fill="#6a2038" opacity="0.38"/>
<circle cx="182.9" cy="530.1" r="1.1" fill="#8a3030" opacity="0.39"/>
<circle cx="190.1" cy="534.7" r="1.1" fill="#6a2038" opacity="0.47"/>
<circle cx="195.2" cy="533.6" r="1.1" fill="#7a2830" opacity="0.57"/>
<circle cx="206.5" cy="538.6" r="1.1" fill="#7a2830" opacity="0.49"/>
<circle cx="195.3" cy="545.9" r="1.1" fill="#7a2830" opacity="0.52"/>
<circle cx="197.8" cy="549.5" r="1.1" fill="#7a2830" opacity="0.34"/>
<circle cx="211.2" cy="547.0" r="1.1" fill="#6a2038" opacity="0.46"/>
<circle cx="213.0" cy="549.3" r="1.1" fill="#7a2830" opacity="0.51"/>
<circle cx="212.0" cy="545.8" r="1.1" fill="#7a2830" opacity="0.58"/>
<circle cx="213.8" cy="539.6" r="1.1" fill="#8a3030" opacity="0.53"/>
<circle cx="211.6" cy="541.8" r="1.1" fill="#8a3030" opacity="0.35"/>
<circle cx="221.7" cy="538.9" r="1.1" fill="#8a3030" opacity="0.36"/>
<circle cx="223.6" cy="543.8" r="1.1" fill="#8a3030" opacity="0.33"/>
<circle cx="226.6" cy="535.9" r="1.1" fill="#7a2830" opacity="0.56"/>
<circle cx="231.3" cy="537.4" r="1.1" fill="#6a2038" opacity="0.53"/>
<circle cx="223.0" cy="530.1" r="1.1" fill="#7a2830" opacity="0.45"/>
<circle cx="232.7" cy="532.1" r="1.1" fill="#6a2038" opacity="0.40"/>
<circle cx="228.3" cy="527.1" r="1.1" fill="#8a3030" opacity="0.44"/>
<circle cx="223.6" cy="523.0" r="1.1" fill="#7a2830" opacity="0.55"/>
<circle cx="218.1" cy="518.7" r="1.1" fill="#6a2038" opacity="0.59"/>
<circle cx="223.0" cy="515.0" r="1.1" fill="#8a3030" opacity="0.37"/>
<circle cx="227.2" cy="522.3" r="1.1" fill="#8a3030" opacity="0.50"/>
<circle cx="227.8" cy="505.9" r="1.1" fill="#6a2038" opacity="0.39"/>
<circle cx="232.8" cy="504.6" r="1.1" fill="#8a3030" opacity="0.35"/>
<circle cx="236.9" cy="503.4" r="1.1" fill="#8a3030" opacity="0.30"/>
<circle cx="241.3" cy="505.0" r="1.1" fill="#6a2038" opacity="0.52"/>
<circle cx="243.6" cy="508.4" r="1.1" fill="#6a2038" opacity="0.45"/>
<circle cx="246.2" cy="511.3" r="1.1" fill="#6a2038" opacity="0.45"/>
<circle cx="237.9" cy="511.9" r="1.1" fill="#8a3030" opacity="0.59"/>
<circle cx="238.8" cy="525.8" r="1.1" fill="#7a2830" opacity="0.41"/>
<circle cx="237.2" cy="536.5" r="1.1" fill="#8a3030" opacity="0.49"/>
<circle cx="242.0" cy="536.6" r="1.1" fill="#7a2830" opacity="0.59"/>
<circle cx="243.1" cy="551.9" r="1.1" fill="#7a2830" opacity="0.32"/>
<circle cx="240.7" cy="559.7" r="1.1" fill="#7a2830" opacity="0.58"/>
<circle cx="244.6" cy="560.4" r="1.1" fill="#7a2830" opacity="0.52"/>
<circle cx="185.3" cy="560.2" r="1.1" fill="#6a2038" opacity="0.38"/>
<circle cx="189.2" cy="560.6" r="1.1" fill="#7a2830" opacity="0.35"/>
<circle cx="186.3" cy="563.5" r="1.1" fill="#8a3030" opacity="0.49"/>
<circle cx="222.3" cy="564.4" r="1.1" fill="#6a2038" opacity="0.59"/>
<circle cx="224.4" cy="563.6" r="1.1" fill="#6a2038" opacity="0.44"/>
<circle cx="214.3" cy="526.1" r="1.1" fill="#8a3030" opacity="0.41"/>
</g>
<g filter="url(#b2)">
<circle cx="217.3" cy="538.1" r="1.3" fill="#d8402a"/>
<circle cx="190.1" cy="516.0" r="1.3" fill="#d8402a"/>
<circle cx="219.6" cy="516.6" r="1.3" fill="#d8402a"/>
<ellipse cx="230.0" cy="506.2" rx="3" ry="2" fill="#b02030" opacity="0.9" transform="rotate(-40 230.0 506.2)"/>
<circle cx="223.2" cy="515.4" r="1.4" fill="#5a2038" opacity="0.6"/>
<circle cx="185.8" cy="560.2" r="2.6" fill="#5a2a22" opacity="0.8"/>
<circle cx="180.3" cy="541.8" r="1.4" fill="#5a2038" opacity="0.6"/>
<circle cx="195.0" cy="546.1" r="1.4" fill="#5a2038" opacity="0.6"/>
<circle cx="226.9" cy="544.8" r="1.4" fill="#5a2038" opacity="0.6"/>
<circle cx="186.4" cy="525.8" r="1.4" fill="#5a2038" opacity="0.6"/>
<circle cx="245.9" cy="533.2" r="1.4" fill="#5a2038" opacity="0.6"/>
<circle cx="236.1" cy="503.1" r="1.4" fill="#5a2038" opacity="0.6"/>
<circle cx="234.3" cy="516.0" r="1.4" fill="#5a2038" opacity="0.6"/>
<circle cx="237.3" cy="536.3" r="1.4" fill="#5a2038" opacity="0.6"/>
<circle cx="226.9" cy="538.7" r="1.4" fill="#5a2038" opacity="0.6"/>
</g><g filter="url(#b1)">
<circle cx="214.7" cy="525.5" r="1.5" fill="#e08a20"/><circle cx="214.7" cy="525.5" r="0.85" fill="#fff070"/>
<circle cx="243.1" cy="513.6" r="1.5" fill="#e08a20"/><circle cx="243.1" cy="513.6" r="0.85" fill="#fff070"/>
<circle cx="211.2" cy="547.7" r="1.5" fill="#e08a20"/><circle cx="211.2" cy="547.7" r="0.85" fill="#fff070"/>
<circle cx="208.9" cy="538.5" r="0.95" fill="#e09028"/>
<circle cx="212.8" cy="541.2" r="0.95" fill="#e09028"/>
</g></g>
<rect x="176.00" y="576.20" width="74.30" height="74.40" fill="#0b0613"/>
<g clip-path="url(#cg22)"><g filter="url(#b15)">
<circle cx="179.7" cy="579.5" r="1.45" fill="#3023ac"/>
<circle cx="182.7" cy="580.7" r="1.45" fill="#3023ac"/>
<circle cx="180.9" cy="583.2" r="1.45" fill="#261b8c"/>
<circle cx="185.2" cy="582.0" r="1.45" fill="#261b8c"/>
<circle cx="184.6" cy="585.0" r="1.45" fill="#261b8c"/>
<circle cx="204.2" cy="578.9" r="1.45" fill="#3023ac"/>
<circle cx="209.1" cy="578.9" r="1.45" fill="#261b8c"/>
<circle cx="218.3" cy="580.1" r="1.70" fill="#4433d4"/>
<circle cx="218.9" cy="583.2" r="1.45" fill="#3023ac"/>
<circle cx="217.1" cy="581.4" r="1.45" fill="#3023ac"/>
<circle cx="215.3" cy="584.4" r="1.45" fill="#261b8c"/>
<circle cx="195.6" cy="583.2" r="1.45" fill="#261b8c"/>
<circle cx="194.4" cy="586.3" r="1.45" fill="#261b8c"/>
<circle cx="198.7" cy="585.6" r="1.45" fill="#261b8c"/>
<circle cx="203.0" cy="584.4" r="1.45" fill="#261b8c"/>
<circle cx="206.1" cy="585.6" r="1.45" fill="#261b8c"/>
<circle cx="199.9" cy="588.7" r="1.45" fill="#261b8c"/>
<circle cx="203.0" cy="589.3" r="1.45" fill="#261b8c"/>
<circle cx="190.1" cy="592.4" r="1.70" fill="#4433d4"/>
<circle cx="189.5" cy="594.2" r="1.45" fill="#261b8c"/>
<circle cx="201.2" cy="596.7" r="1.45" fill="#261b8c"/>
<circle cx="204.8" cy="599.1" r="1.45" fill="#261b8c"/>
<circle cx="187.0" cy="602.8" r="1.70" fill="#4433d4"/>
<circle cx="182.7" cy="607.1" r="1.70" fill="#4433d4"/>
<circle cx="187.7" cy="612.0" r="1.45" fill="#261b8c"/>
<circle cx="190.1" cy="611.4" r="1.45" fill="#261b8c"/>
<circle cx="195.0" cy="610.8" r="1.45" fill="#261b8c"/>
<circle cx="194.4" cy="613.9" r="1.45" fill="#261b8c"/>
<circle cx="207.3" cy="609.0" r="1.45" fill="#3023ac"/>
<circle cx="209.1" cy="610.8" r="1.45" fill="#3023ac"/>
<circle cx="206.7" cy="613.3" r="1.45" fill="#261b8c"/>
<circle cx="210.4" cy="613.9" r="1.45" fill="#261b8c"/>
<circle cx="206.7" cy="615.7" r="1.45" fill="#261b8c"/>
<circle cx="180.3" cy="618.8" r="1.70" fill="#4433d4"/>
<circle cx="182.7" cy="620.0" r="1.45" fill="#3023ac"/>
<circle cx="179.1" cy="620.0" r="1.45" fill="#3023ac"/>
<circle cx="185.2" cy="616.9" r="1.45" fill="#261b8c"/>
<circle cx="187.0" cy="621.8" r="1.45" fill="#261b8c"/>
<circle cx="195.0" cy="623.1" r="1.45" fill="#3023ac"/>
<circle cx="194.4" cy="625.5" r="1.45" fill="#3023ac"/>
<circle cx="198.1" cy="626.1" r="1.45" fill="#261b8c"/>
<circle cx="193.2" cy="629.8" r="1.45" fill="#261b8c"/>
<circle cx="211.0" cy="624.3" r="1.70" fill="#4433d4"/>
<circle cx="212.8" cy="626.1" r="1.45" fill="#3023ac"/>
<circle cx="211.6" cy="622.5" r="1.45" fill="#3023ac"/>
<circle cx="213.4" cy="616.9" r="1.45" fill="#261b8c"/>
<circle cx="217.1" cy="615.1" r="1.45" fill="#261b8c"/>
<circle cx="211.6" cy="618.8" r="1.45" fill="#261b8c"/>
<circle cx="222.0" cy="615.7" r="1.45" fill="#261b8c"/>
<circle cx="223.2" cy="620.6" r="1.45" fill="#261b8c"/>
<circle cx="226.9" cy="621.2" r="1.45" fill="#261b8c"/>
<circle cx="219.6" cy="620.6" r="1.45" fill="#261b8c"/>
<circle cx="226.9" cy="613.3" r="1.45" fill="#261b8c"/>
<circle cx="231.2" cy="614.5" r="1.45" fill="#261b8c"/>
<circle cx="223.2" cy="607.1" r="1.45" fill="#261b8c"/>
<circle cx="233.1" cy="609.0" r="1.45" fill="#261b8c"/>
<circle cx="228.1" cy="604.1" r="1.45" fill="#261b8c"/>
<circle cx="223.2" cy="600.4" r="1.45" fill="#261b8c"/>
<circle cx="220.8" cy="598.5" r="1.45" fill="#261b8c"/>
<circle cx="217.7" cy="596.1" r="1.45" fill="#261b8c"/>
<circle cx="218.9" cy="593.6" r="1.45" fill="#261b8c"/>
<circle cx="223.2" cy="591.8" r="1.45" fill="#261b8c"/>
<circle cx="226.9" cy="599.1" r="1.45" fill="#261b8c"/>
<circle cx="231.2" cy="595.5" r="1.45" fill="#261b8c"/>
<circle cx="234.3" cy="593.0" r="1.45" fill="#261b8c"/>
<circle cx="230.6" cy="586.9" r="1.45" fill="#261b8c"/>
<circle cx="228.1" cy="582.6" r="1.45" fill="#261b8c"/>
<circle cx="233.1" cy="582.0" r="1.45" fill="#261b8c"/>
<circle cx="236.7" cy="580.1" r="1.45" fill="#261b8c"/>
<circle cx="241.0" cy="582.0" r="1.45" fill="#261b8c"/>
<circle cx="243.5" cy="585.6" r="1.45" fill="#261b8c"/>
<circle cx="245.9" cy="588.7" r="1.45" fill="#261b8c"/>
<circle cx="241.0" cy="592.4" r="1.45" fill="#261b8c"/>
<circle cx="238.0" cy="588.7" r="1.45" fill="#261b8c"/>
<circle cx="238.6" cy="602.8" r="1.45" fill="#261b8c"/>
<circle cx="236.7" cy="607.1" r="1.45" fill="#261b8c"/>
<circle cx="241.6" cy="609.6" r="1.45" fill="#261b8c"/>
<circle cx="245.3" cy="610.2" r="1.45" fill="#261b8c"/>
<circle cx="237.3" cy="613.3" r="1.45" fill="#261b8c"/>
<circle cx="242.3" cy="613.9" r="1.45" fill="#261b8c"/>
<circle cx="242.9" cy="629.2" r="1.45" fill="#261b8c"/>
<circle cx="240.4" cy="636.6" r="1.45" fill="#261b8c"/>
<circle cx="244.7" cy="637.8" r="1.45" fill="#261b8c"/>
<circle cx="185.2" cy="637.2" r="1.45" fill="#3023ac"/>
<circle cx="187.7" cy="639.6" r="1.70" fill="#4433d4"/>
<circle cx="188.9" cy="637.8" r="1.45" fill="#3023ac"/>
<circle cx="186.4" cy="640.9" r="1.45" fill="#261b8c"/>
<circle cx="222.0" cy="641.5" r="1.45" fill="#261b8c"/>
<circle cx="224.5" cy="640.2" r="1.45" fill="#261b8c"/>
<circle cx="225.7" cy="647.6" r="1.45" fill="#261b8c"/>
<circle cx="214.7" cy="602.8" r="1.45" fill="#261b8c"/>
</g></g>
<g clip-path="url(#cg22)">
<g filter="url(#b2)">
<circle cx="179.8" cy="579.2" r="1.1" fill="#8a3030" opacity="0.50"/>
<circle cx="182.6" cy="580.7" r="1.1" fill="#8a3030" opacity="0.31"/>
<circle cx="181.0" cy="583.2" r="1.1" fill="#7a2830" opacity="0.52"/>
<circle cx="185.0" cy="581.7" r="1.1" fill="#7a2830" opacity="0.51"/>
<circle cx="204.2" cy="578.7" r="1.1" fill="#8a3030" opacity="0.46"/>
<circle cx="209.1" cy="578.9" r="1.1" fill="#7a2830" opacity="0.37"/>
<circle cx="218.2" cy="580.3" r="1.1" fill="#8a3030" opacity="0.43"/>
<circle cx="215.5" cy="584.3" r="1.1" fill="#7a2830" opacity="0.48"/>
<circle cx="194.5" cy="586.2" r="1.1" fill="#8a3030" opacity="0.53"/>
<circle cx="198.6" cy="585.8" r="1.1" fill="#8a3030" opacity="0.58"/>
<circle cx="203.1" cy="584.7" r="1.1" fill="#8a3030" opacity="0.36"/>
<circle cx="205.8" cy="585.7" r="1.1" fill="#8a3030" opacity="0.49"/>
<circle cx="200.3" cy="588.7" r="1.1" fill="#6a2038" opacity="0.34"/>
<circle cx="203.3" cy="589.2" r="1.1" fill="#8a3030" opacity="0.56"/>
<circle cx="189.9" cy="592.5" r="1.1" fill="#7a2830" opacity="0.36"/>
<circle cx="189.6" cy="594.0" r="1.1" fill="#6a2038" opacity="0.34"/>
<circle cx="204.4" cy="598.9" r="1.1" fill="#6a2038" opacity="0.35"/>
<circle cx="186.8" cy="602.8" r="1.1" fill="#6a2038" opacity="0.38"/>
<circle cx="182.9" cy="607.1" r="1.1" fill="#8a3030" opacity="0.39"/>
<circle cx="190.1" cy="611.7" r="1.1" fill="#6a2038" opacity="0.47"/>
<circle cx="195.2" cy="610.6" r="1.1" fill="#7a2830" opacity="0.57"/>
<circle cx="206.5" cy="615.6" r="1.1" fill="#7a2830" opacity="0.49"/>
<circle cx="195.3" cy="622.9" r="1.1" fill="#7a2830" opacity="0.52"/>
<circle cx="197.8" cy="626.5" r="1.1" fill="#7a2830" opacity="0.34"/>
<circle cx="211.2" cy="624.0" r="1.1" fill="#6a2038" opacity="0.46"/>
<circle cx="213.0" cy="626.3" r="1.1" fill="#7a2830" opacity="0.51"/>
<circle cx="212.0" cy="622.8" r="1.1" fill="#7a2830" opacity="0.58"/>
<circle cx="213.8" cy="616.6" r="1.1" fill="#8a3030" opacity="0.53"/>
<circle cx="211.6" cy="618.8" r="1.1" fill="#8a3030" opacity="0.35"/>
<circle cx="221.7" cy="615.9" r="1.1" fill="#8a3030" opacity="0.36"/>
<circle cx="223.6" cy="620.8" r="1.1" fill="#8a3030" opacity="0.33"/>
<circle cx="226.6" cy="612.9" r="1.1" fill="#7a2830" opacity="0.56"/>
<circle cx="231.3" cy="614.4" r="1.1" fill="#6a2038" opacity="0.53"/>
<circle cx="223.0" cy="607.1" r="1.1" fill="#7a2830" opacity="0.45"/>
<circle cx="232.7" cy="609.1" r="1.1" fill="#6a2038" opacity="0.40"/>
<circle cx="228.3" cy="604.1" r="1.1" fill="#8a3030" opacity="0.44"/>
<circle cx="223.6" cy="600.0" r="1.1" fill="#7a2830" opacity="0.55"/>
<circle cx="218.1" cy="595.7" r="1.1" fill="#6a2038" opacity="0.59"/>
<circle cx="223.0" cy="592.0" r="1.1" fill="#8a3030" opacity="0.37"/>
<circle cx="227.2" cy="599.3" r="1.1" fill="#8a3030" opacity="0.50"/>
<circle cx="227.8" cy="582.9" r="1.1" fill="#6a2038" opacity="0.39"/>
<circle cx="232.8" cy="581.6" r="1.1" fill="#8a3030" opacity="0.35"/>
<circle cx="236.9" cy="580.4" r="1.1" fill="#8a3030" opacity="0.30"/>
<circle cx="241.3" cy="582.0" r="1.1" fill="#6a2038" opacity="0.52"/>
<circle cx="243.6" cy="585.4" r="1.1" fill="#6a2038" opacity="0.45"/>
<circle cx="246.2" cy="588.3" r="1.1" fill="#6a2038" opacity="0.45"/>
<circle cx="237.9" cy="588.9" r="1.1" fill="#8a3030" opacity="0.59"/>
<circle cx="238.8" cy="602.8" r="1.1" fill="#7a2830" opacity="0.41"/>
<circle cx="237.2" cy="613.5" r="1.1" fill="#8a3030" opacity="0.49"/>
<circle cx="242.0" cy="613.6" r="1.1" fill="#7a2830" opacity="0.59"/>
<circle cx="243.1" cy="628.9" r="1.1" fill="#7a2830" opacity="0.32"/>
<circle cx="240.7" cy="636.7" r="1.1" fill="#7a2830" opacity="0.58"/>
<circle cx="244.6" cy="637.4" r="1.1" fill="#7a2830" opacity="0.52"/>
<circle cx="185.3" cy="637.2" r="1.1" fill="#6a2038" opacity="0.38"/>
<circle cx="189.2" cy="637.6" r="1.1" fill="#7a2830" opacity="0.35"/>
<circle cx="186.3" cy="640.5" r="1.1" fill="#8a3030" opacity="0.49"/>
<circle cx="222.3" cy="641.4" r="1.1" fill="#6a2038" opacity="0.59"/>
<circle cx="224.4" cy="640.6" r="1.1" fill="#6a2038" opacity="0.44"/>
<circle cx="214.3" cy="603.1" r="1.1" fill="#8a3030" opacity="0.41"/>
</g>
<g filter="url(#b2)">
<circle cx="217.3" cy="615.1" r="1.3" fill="#d8402a"/>
<circle cx="190.1" cy="593.0" r="1.3" fill="#d8402a"/>
<circle cx="219.6" cy="593.6" r="1.3" fill="#d8402a"/>
<ellipse cx="230.0" cy="583.2" rx="3" ry="2" fill="#b02030" opacity="0.9" transform="rotate(-40 230.0 583.2)"/>
<circle cx="223.2" cy="592.4" r="1.4" fill="#5a2038" opacity="0.6"/>
<circle cx="185.8" cy="637.2" r="2.6" fill="#5a2a22" opacity="0.8"/>
<circle cx="180.3" cy="618.8" r="1.4" fill="#5a2038" opacity="0.6"/>
<circle cx="195.0" cy="623.1" r="1.4" fill="#5a2038" opacity="0.6"/>
<circle cx="226.9" cy="621.8" r="1.4" fill="#5a2038" opacity="0.6"/>
<circle cx="186.4" cy="602.8" r="1.4" fill="#5a2038" opacity="0.6"/>
<circle cx="245.9" cy="610.2" r="1.4" fill="#5a2038" opacity="0.6"/>
<circle cx="236.1" cy="580.1" r="1.4" fill="#5a2038" opacity="0.6"/>
<circle cx="234.3" cy="593.0" r="1.4" fill="#5a2038" opacity="0.6"/>
<circle cx="237.3" cy="613.3" r="1.4" fill="#5a2038" opacity="0.6"/>
<circle cx="226.9" cy="615.7" r="1.4" fill="#5a2038" opacity="0.6"/>
</g><g filter="url(#b1)">
<circle cx="214.7" cy="602.5" r="1.5" fill="#e08a20"/><circle cx="214.7" cy="602.5" r="0.85" fill="#fff070"/>
<circle cx="243.1" cy="590.6" r="1.5" fill="#e08a20"/><circle cx="243.1" cy="590.6" r="0.85" fill="#fff070"/>
<circle cx="211.2" cy="624.7" r="1.5" fill="#e08a20"/><circle cx="211.2" cy="624.7" r="0.85" fill="#fff070"/>
<circle cx="208.9" cy="615.5" r="0.95" fill="#e09028"/>
<circle cx="212.8" cy="618.2" r="0.95" fill="#e09028"/>
</g></g>
<rect x="253.00" y="422.10" width="74.30" height="74.40" fill="url(#gd4)"/>
<g clip-path="url(#cg03)"><g filter="url(#b1)">
<circle cx="262.2" cy="424.8" r="1.45" fill="#1616b4"/>
<circle cx="264.7" cy="427.3" r="1.45" fill="#1616b4"/>
<circle cx="267.7" cy="425.4" r="1.45" fill="#1616b4"/>
<circle cx="269.6" cy="428.5" r="1.45" fill="#1616b4"/>
<circle cx="272.6" cy="427.3" r="1.45" fill="#1616b4"/>
<circle cx="275.1" cy="429.1" r="1.45" fill="#1616b4"/>
<circle cx="277.5" cy="426.6" r="1.45" fill="#1616b4"/>
<circle cx="280.6" cy="426.0" r="1.45" fill="#1616b4"/>
<circle cx="262.8" cy="430.3" r="1.45" fill="#1616b4"/>
<circle cx="259.7" cy="432.2" r="1.45" fill="#1616b4"/>
<circle cx="256.7" cy="433.4" r="1.45" fill="#1616b4"/>
<circle cx="260.4" cy="435.8" r="1.45" fill="#1616b4"/>
<circle cx="257.3" cy="438.3" r="1.45" fill="#1616b4"/>
<circle cx="254.8" cy="440.1" r="1.45" fill="#1616b4"/>
<circle cx="257.9" cy="441.4" r="1.45" fill="#1616b4"/>
<circle cx="255.5" cy="444.4" r="1.45" fill="#1616b4"/>
<circle cx="263.4" cy="433.4" r="1.45" fill="#1616b4"/>
<circle cx="267.1" cy="432.2" r="1.45" fill="#1616b4"/>
<circle cx="269.6" cy="435.2" r="1.45" fill="#1616b4"/>
<circle cx="266.5" cy="438.3" r="1.45" fill="#1616b4"/>
<circle cx="270.8" cy="433.4" r="1.45" fill="#1616b4"/>
<circle cx="274.5" cy="432.2" r="1.45" fill="#1616b4"/>
<circle cx="276.3" cy="436.5" r="1.70" fill="#2828f8"/>
<circle cx="267.1" cy="442.6" r="1.45" fill="#1e1edc"/>
<circle cx="266.5" cy="445.7" r="1.45" fill="#1e1edc"/>
<circle cx="269.0" cy="445.0" r="1.45" fill="#1616b4"/>
<circle cx="272.0" cy="448.1" r="1.45" fill="#1616b4"/>
<circle cx="275.7" cy="448.7" r="1.45" fill="#1616b4"/>
<circle cx="284.9" cy="430.9" r="1.45" fill="#1e1edc"/>
<circle cx="287.4" cy="431.5" r="1.45" fill="#1e1edc"/>
<circle cx="289.2" cy="433.4" r="1.45" fill="#1616b4"/>
<circle cx="293.5" cy="429.7" r="1.45" fill="#1616b4"/>
<circle cx="295.9" cy="429.1" r="1.45" fill="#1616b4"/>
<circle cx="296.6" cy="433.4" r="1.45" fill="#1616b4"/>
<circle cx="300.9" cy="426.6" r="1.45" fill="#1e1edc"/>
<circle cx="302.1" cy="429.1" r="1.45" fill="#1e1edc"/>
<circle cx="301.5" cy="432.2" r="1.45" fill="#1e1edc"/>
<circle cx="304.5" cy="433.4" r="1.45" fill="#1e1edc"/>
<circle cx="303.3" cy="436.5" r="1.45" fill="#1e1edc"/>
<circle cx="300.9" cy="437.7" r="1.45" fill="#1616b4"/>
<circle cx="305.8" cy="435.8" r="1.45" fill="#1e1edc"/>
<circle cx="308.8" cy="432.8" r="1.45" fill="#1e1edc"/>
<circle cx="311.9" cy="431.5" r="1.45" fill="#1e1edc"/>
<circle cx="313.7" cy="429.1" r="1.45" fill="#1616b4"/>
<circle cx="311.3" cy="434.6" r="1.45" fill="#1e1edc"/>
<circle cx="309.4" cy="438.3" r="1.70" fill="#2828f8"/>
<circle cx="315.0" cy="437.1" r="1.45" fill="#1616b4"/>
<circle cx="289.2" cy="423.6" r="1.45" fill="#1616b4"/>
<circle cx="294.7" cy="423.0" r="1.45" fill="#1616b4"/>
<circle cx="305.1" cy="423.0" r="1.45" fill="#1616b4"/>
<circle cx="318.0" cy="423.6" r="1.45" fill="#1616b4"/>
<circle cx="303.9" cy="445.0" r="1.45" fill="#1e1edc"/>
<circle cx="306.4" cy="446.3" r="1.45" fill="#1616b4"/>
<circle cx="304.5" cy="448.7" r="1.45" fill="#1e1edc"/>
<circle cx="302.1" cy="450.0" r="1.45" fill="#1616b4"/>
<circle cx="307.6" cy="448.7" r="1.45" fill="#1616b4"/>
<circle cx="307.0" cy="453.0" r="1.70" fill="#2828f8"/>
<circle cx="290.4" cy="450.6" r="1.45" fill="#1e1edc"/>
<circle cx="291.0" cy="453.0" r="1.45" fill="#1e1edc"/>
<circle cx="289.2" cy="454.9" r="1.45" fill="#1e1edc"/>
<circle cx="288.0" cy="452.4" r="1.45" fill="#1616b4"/>
<circle cx="315.0" cy="456.1" r="1.45" fill="#1e1edc"/>
<circle cx="317.4" cy="455.5" r="1.45" fill="#1e1edc"/>
<circle cx="318.6" cy="450.6" r="1.45" fill="#1e1edc"/>
<circle cx="321.7" cy="452.4" r="1.45" fill="#1616b4"/>
<circle cx="323.6" cy="446.3" r="1.45" fill="#1e1edc"/>
<circle cx="324.8" cy="449.3" r="1.45" fill="#1616b4"/>
<circle cx="321.1" cy="446.9" r="1.45" fill="#1616b4"/>
<circle cx="321.7" cy="459.2" r="1.45" fill="#1e1edc"/>
<circle cx="325.4" cy="458.5" r="1.45" fill="#1e1edc"/>
<circle cx="326.6" cy="453.0" r="1.45" fill="#1616b4"/>
<circle cx="291.7" cy="466.5" r="1.70" fill="#2828f8"/>
<circle cx="294.1" cy="465.3" r="1.45" fill="#1e1edc"/>
<circle cx="293.5" cy="468.4" r="1.45" fill="#1e1edc"/>
<circle cx="296.6" cy="464.7" r="1.45" fill="#1616b4"/>
<circle cx="294.7" cy="467.1" r="1.45" fill="#1e1edc"/>
<circle cx="267.1" cy="464.7" r="1.45" fill="#1616b4"/>
<circle cx="324.2" cy="465.3" r="1.45" fill="#1616b4"/>
<circle cx="307.0" cy="476.9" r="1.70" fill="#2828f8"/>
<circle cx="271.4" cy="480.0" r="1.70" fill="#2828f8"/>
<circle cx="273.9" cy="486.8" r="1.70" fill="#2828f8"/>
<circle cx="255.5" cy="482.5" r="1.45" fill="#1e1edc"/>
<circle cx="257.9" cy="481.9" r="1.45" fill="#1e1edc"/>
<circle cx="260.4" cy="483.7" r="1.45" fill="#1616b4"/>
<circle cx="256.1" cy="486.1" r="1.45" fill="#1616b4"/>
<circle cx="258.5" cy="488.6" r="1.45" fill="#1616b4"/>
<circle cx="255.5" cy="490.4" r="1.45" fill="#1616b4"/>
<circle cx="257.3" cy="492.3" r="1.45" fill="#1616b4"/>
<circle cx="264.7" cy="494.1" r="1.45" fill="#1e1edc"/>
<circle cx="288.0" cy="494.1" r="1.45" fill="#1616b4"/>
<circle cx="253.6" cy="469.0" r="1.45" fill="#1616b4"/>
</g></g>
<rect x="253.00" y="499.20" width="74.30" height="74.40" fill="url(#gh)"/>
<g clip-path="url(#cg13)">
<g filter="url(#b2)">
<circle cx="264.8" cy="504.5" r="1.1" fill="#6a2a30" opacity="0.51"/>
<circle cx="275.0" cy="506.3" r="1.1" fill="#5a2440" opacity="0.32"/>
<circle cx="277.8" cy="503.4" r="1.1" fill="#6a2a30" opacity="0.59"/>
<circle cx="259.9" cy="509.6" r="1.1" fill="#5a2440" opacity="0.37"/>
<circle cx="254.6" cy="517.0" r="1.1" fill="#5a2440" opacity="0.55"/>
<circle cx="267.4" cy="509.2" r="1.1" fill="#6a2a30" opacity="0.51"/>
<circle cx="269.5" cy="512.0" r="1.1" fill="#5a2440" opacity="0.45"/>
<circle cx="270.7" cy="510.8" r="1.1" fill="#7a4028" opacity="0.39"/>
<circle cx="276.6" cy="513.8" r="1.1" fill="#7a4028" opacity="0.51"/>
<circle cx="267.2" cy="519.8" r="1.1" fill="#5a2440" opacity="0.41"/>
<circle cx="269.3" cy="521.9" r="1.1" fill="#7a4028" opacity="0.40"/>
<circle cx="271.6" cy="525.0" r="1.1" fill="#6a2a30" opacity="0.49"/>
<circle cx="275.6" cy="525.9" r="1.1" fill="#5a2440" opacity="0.31"/>
<circle cx="284.6" cy="507.8" r="1.1" fill="#7a4028" opacity="0.40"/>
<circle cx="293.9" cy="506.7" r="1.1" fill="#6a2a30" opacity="0.35"/>
<circle cx="296.2" cy="505.8" r="1.1" fill="#5a2440" opacity="0.40"/>
<circle cx="296.7" cy="510.1" r="1.1" fill="#7a4028" opacity="0.49"/>
<circle cx="301.0" cy="503.7" r="1.1" fill="#8a5030" opacity="0.53"/>
<circle cx="303.2" cy="513.4" r="1.1" fill="#7a4028" opacity="0.42"/>
<circle cx="306.0" cy="512.9" r="1.1" fill="#6a2a30" opacity="0.44"/>
<circle cx="309.2" cy="509.9" r="1.1" fill="#7a4028" opacity="0.34"/>
<circle cx="311.4" cy="511.9" r="1.1" fill="#5a2440" opacity="0.56"/>
<circle cx="309.1" cy="515.8" r="1.1" fill="#7a4028" opacity="0.48"/>
<circle cx="314.7" cy="514.1" r="1.1" fill="#7a4028" opacity="0.53"/>
<circle cx="294.5" cy="500.0" r="1.1" fill="#7a4028" opacity="0.54"/>
<circle cx="303.7" cy="522.3" r="1.1" fill="#5a2440" opacity="0.52"/>
<circle cx="301.9" cy="527.1" r="1.1" fill="#8a5030" opacity="0.33"/>
<circle cx="307.5" cy="526.0" r="1.1" fill="#8a5030" opacity="0.45"/>
<circle cx="306.7" cy="530.3" r="1.1" fill="#7a4028" opacity="0.48"/>
<circle cx="290.3" cy="527.6" r="1.1" fill="#6a2a30" opacity="0.34"/>
<circle cx="291.4" cy="530.3" r="1.1" fill="#8a5030" opacity="0.34"/>
<circle cx="317.5" cy="532.9" r="1.1" fill="#8a5030" opacity="0.50"/>
<circle cx="319.0" cy="527.7" r="1.1" fill="#8a5030" opacity="0.55"/>
<circle cx="324.5" cy="526.6" r="1.1" fill="#5a2440" opacity="0.30"/>
<circle cx="321.4" cy="524.2" r="1.1" fill="#8a5030" opacity="0.58"/>
<circle cx="321.5" cy="535.9" r="1.1" fill="#8a5030" opacity="0.51"/>
<circle cx="296.4" cy="541.6" r="1.1" fill="#7a4028" opacity="0.56"/>
<circle cx="324.3" cy="542.1" r="1.1" fill="#8a5030" opacity="0.42"/>
<circle cx="307.2" cy="554.1" r="1.1" fill="#5a2440" opacity="0.40"/>
<circle cx="271.1" cy="557.1" r="1.1" fill="#8a5030" opacity="0.46"/>
<circle cx="274.1" cy="564.0" r="1.1" fill="#8a5030" opacity="0.48"/>
<circle cx="255.6" cy="560.0" r="1.1" fill="#6a2a30" opacity="0.51"/>
<circle cx="257.6" cy="558.9" r="1.1" fill="#5a2440" opacity="0.47"/>
<circle cx="260.1" cy="561.0" r="1.1" fill="#7a4028" opacity="0.40"/>
<circle cx="255.8" cy="563.1" r="1.1" fill="#8a5030" opacity="0.60"/>
<circle cx="264.4" cy="570.9" r="1.1" fill="#5a2440" opacity="0.36"/>
<circle cx="287.6" cy="571.2" r="1.1" fill="#8a5030" opacity="0.49"/>
</g>
<g filter="url(#b2)">
<circle cx="265.3" cy="505.0" r="1.2" fill="#9a5a30" opacity="0.8"/>
<circle cx="275.1" cy="509.0" r="1.2" fill="#9a5a30" opacity="0.8"/>
<circle cx="269.6" cy="514.2" r="1.4" fill="#5a2038" opacity="0.6"/>
<circle cx="318.0" cy="532.6" r="1.2" fill="#9a5a30" opacity="0.8"/>
<circle cx="257.3" cy="560.2" r="1.2" fill="#9a5a30" opacity="0.8"/>
<circle cx="307.0" cy="554.0" r="1.4" fill="#5a2038" opacity="0.6"/>
<circle cx="306.4" cy="562.6" r="1.4" fill="#5a2038" opacity="0.6"/>
<circle cx="270.8" cy="542.4" r="1.4" fill="#5a2038" opacity="0.6"/>
<circle cx="303.3" cy="521.5" r="1.4" fill="#5a2038" opacity="0.6"/>
<circle cx="285.5" cy="506.2" r="1.2" fill="#9a5a30" opacity="0.8"/>
<circle cx="324.8" cy="533.8" r="1.4" fill="#5a2038" opacity="0.6"/>
</g><g filter="url(#b1)">
<circle cx="289.0" cy="508.3" r="1.5" fill="#e08a20"/><circle cx="289.0" cy="508.3" r="0.85" fill="#fff070"/>
<circle cx="324.2" cy="542.1" r="1.5" fill="#e08a20"/><circle cx="324.2" cy="542.1" r="0.85" fill="#fff070"/>
<circle cx="309.7" cy="509.9" r="0.95" fill="#e09028"/>
<circle cx="307.6" cy="530.1" r="0.95" fill="#e09028"/>
<circle cx="276.3" cy="513.2" r="0.95" fill="#e09028"/>
<circle cx="269.0" cy="563.9" r="0.95" fill="#e09028"/>
<circle cx="264.9" cy="556.5" r="0.95" fill="#e09028"/>
<circle cx="267.4" cy="556.7" r="0.95" fill="#e09028"/>
<circle cx="315.0" cy="573.1" r="1.5" fill="#e08a20"/><circle cx="315.0" cy="573.1" r="0.85" fill="#fff070"/>
</g></g>
<rect x="253.00" y="576.20" width="74.30" height="74.40" fill="#0c0616"/>
<g clip-path="url(#cg23)"><g filter="url(#b1)">
<circle cx="262.2" cy="578.9" r="1.45" fill="#261b8c"/>
<circle cx="264.7" cy="581.4" r="1.45" fill="#261b8c"/>
<circle cx="267.7" cy="579.5" r="1.45" fill="#261b8c"/>
<circle cx="269.6" cy="582.6" r="1.45" fill="#261b8c"/>
<circle cx="272.6" cy="581.4" r="1.45" fill="#261b8c"/>
<circle cx="275.1" cy="583.2" r="1.45" fill="#261b8c"/>
<circle cx="277.5" cy="580.7" r="1.45" fill="#261b8c"/>
<circle cx="280.6" cy="580.1" r="1.45" fill="#261b8c"/>
<circle cx="262.8" cy="584.4" r="1.45" fill="#261b8c"/>
<circle cx="259.7" cy="586.3" r="1.45" fill="#261b8c"/>
<circle cx="256.7" cy="587.5" r="1.45" fill="#261b8c"/>
<circle cx="260.4" cy="589.9" r="1.45" fill="#261b8c"/>
<circle cx="257.3" cy="592.4" r="1.45" fill="#261b8c"/>
<circle cx="254.8" cy="594.2" r="1.45" fill="#261b8c"/>
<circle cx="257.9" cy="595.5" r="1.45" fill="#261b8c"/>
<circle cx="255.5" cy="598.5" r="1.45" fill="#261b8c"/>
<circle cx="263.4" cy="587.5" r="1.45" fill="#261b8c"/>
<circle cx="267.1" cy="586.3" r="1.45" fill="#261b8c"/>
<circle cx="269.6" cy="589.3" r="1.45" fill="#261b8c"/>
<circle cx="266.5" cy="592.4" r="1.45" fill="#261b8c"/>
<circle cx="270.8" cy="587.5" r="1.45" fill="#261b8c"/>
<circle cx="274.5" cy="586.3" r="1.45" fill="#261b8c"/>
<circle cx="276.3" cy="590.6" r="1.70" fill="#4433d4"/>
<circle cx="267.1" cy="596.7" r="1.45" fill="#3023ac"/>
<circle cx="266.5" cy="599.8" r="1.45" fill="#3023ac"/>
<circle cx="269.0" cy="599.1" r="1.45" fill="#261b8c"/>
<circle cx="272.0" cy="602.2" r="1.45" fill="#261b8c"/>
<circle cx="275.7" cy="602.8" r="1.45" fill="#261b8c"/>
<circle cx="284.9" cy="585.0" r="1.45" fill="#3023ac"/>
<circle cx="287.4" cy="585.6" r="1.45" fill="#3023ac"/>
<circle cx="289.2" cy="587.5" r="1.45" fill="#261b8c"/>
<circle cx="293.5" cy="583.8" r="1.45" fill="#261b8c"/>
<circle cx="295.9" cy="583.2" r="1.45" fill="#261b8c"/>
<circle cx="296.6" cy="587.5" r="1.45" fill="#261b8c"/>
<circle cx="300.9" cy="580.7" r="1.45" fill="#3023ac"/>
<circle cx="302.1" cy="583.2" r="1.45" fill="#3023ac"/>
<circle cx="301.5" cy="586.3" r="1.45" fill="#3023ac"/>
<circle cx="304.5" cy="587.5" r="1.45" fill="#3023ac"/>
<circle cx="303.3" cy="590.6" r="1.45" fill="#3023ac"/>
<circle cx="300.9" cy="591.8" r="1.45" fill="#261b8c"/>
<circle cx="305.8" cy="589.9" r="1.45" fill="#3023ac"/>
<circle cx="308.8" cy="586.9" r="1.45" fill="#3023ac"/>
<circle cx="311.9" cy="585.6" r="1.45" fill="#3023ac"/>
<circle cx="313.7" cy="583.2" r="1.45" fill="#261b8c"/>
<circle cx="311.3" cy="588.7" r="1.45" fill="#3023ac"/>
<circle cx="309.4" cy="592.4" r="1.70" fill="#4433d4"/>
<circle cx="315.0" cy="591.2" r="1.45" fill="#261b8c"/>
<circle cx="289.2" cy="577.7" r="1.45" fill="#261b8c"/>
<circle cx="294.7" cy="577.1" r="1.45" fill="#261b8c"/>
<circle cx="305.1" cy="577.1" r="1.45" fill="#261b8c"/>
<circle cx="318.0" cy="577.7" r="1.45" fill="#261b8c"/>
<circle cx="303.9" cy="599.1" r="1.45" fill="#3023ac"/>
<circle cx="306.4" cy="600.4" r="1.45" fill="#261b8c"/>
<circle cx="304.5" cy="602.8" r="1.45" fill="#3023ac"/>
<circle cx="302.1" cy="604.1" r="1.45" fill="#261b8c"/>
<circle cx="307.6" cy="602.8" r="1.45" fill="#261b8c"/>
<circle cx="307.0" cy="607.1" r="1.70" fill="#4433d4"/>
<circle cx="290.4" cy="604.7" r="1.45" fill="#3023ac"/>
<circle cx="291.0" cy="607.1" r="1.45" fill="#3023ac"/>
<circle cx="289.2" cy="609.0" r="1.45" fill="#3023ac"/>
<circle cx="288.0" cy="606.5" r="1.45" fill="#261b8c"/>
<circle cx="315.0" cy="610.2" r="1.45" fill="#3023ac"/>
<circle cx="317.4" cy="609.6" r="1.45" fill="#3023ac"/>
<circle cx="318.6" cy="604.7" r="1.45" fill="#3023ac"/>
<circle cx="321.7" cy="606.5" r="1.45" fill="#261b8c"/>
<circle cx="323.6" cy="600.4" r="1.45" fill="#3023ac"/>
<circle cx="324.8" cy="603.4" r="1.45" fill="#261b8c"/>
<circle cx="321.1" cy="601.0" r="1.45" fill="#261b8c"/>
<circle cx="321.7" cy="613.3" r="1.45" fill="#3023ac"/>
<circle cx="325.4" cy="612.6" r="1.45" fill="#3023ac"/>
<circle cx="326.6" cy="607.1" r="1.45" fill="#261b8c"/>
<circle cx="291.7" cy="620.6" r="1.70" fill="#4433d4"/>
<circle cx="294.1" cy="619.4" r="1.45" fill="#3023ac"/>
<circle cx="293.5" cy="622.5" r="1.45" fill="#3023ac"/>
<circle cx="296.6" cy="618.8" r="1.45" fill="#261b8c"/>
<circle cx="294.7" cy="621.2" r="1.45" fill="#3023ac"/>
<circle cx="267.1" cy="618.8" r="1.45" fill="#261b8c"/>
<circle cx="324.2" cy="619.4" r="1.45" fill="#261b8c"/>
<circle cx="307.0" cy="631.0" r="1.70" fill="#4433d4"/>
<circle cx="271.4" cy="634.1" r="1.70" fill="#4433d4"/>
<circle cx="273.9" cy="640.9" r="1.70" fill="#4433d4"/>
<circle cx="255.5" cy="636.6" r="1.45" fill="#3023ac"/>
<circle cx="257.9" cy="636.0" r="1.45" fill="#3023ac"/>
<circle cx="260.4" cy="637.8" r="1.45" fill="#261b8c"/>
<circle cx="256.1" cy="640.2" r="1.45" fill="#261b8c"/>
<circle cx="258.5" cy="642.7" r="1.45" fill="#261b8c"/>
<circle cx="255.5" cy="644.5" r="1.45" fill="#261b8c"/>
<circle cx="257.3" cy="646.4" r="1.45" fill="#261b8c"/>
<circle cx="264.7" cy="648.2" r="1.45" fill="#3023ac"/>
<circle cx="288.0" cy="648.2" r="1.45" fill="#261b8c"/>
<circle cx="253.6" cy="623.1" r="1.45" fill="#261b8c"/>
</g></g>
<g clip-path="url(#cg23)">
<g filter="url(#b2)">
<circle cx="264.8" cy="581.5" r="1.1" fill="#6a2a30" opacity="0.51"/>
<circle cx="275.0" cy="583.3" r="1.1" fill="#5a2440" opacity="0.32"/>
<circle cx="277.8" cy="580.4" r="1.1" fill="#6a2a30" opacity="0.59"/>
<circle cx="259.9" cy="586.6" r="1.1" fill="#5a2440" opacity="0.37"/>
<circle cx="254.6" cy="594.0" r="1.1" fill="#5a2440" opacity="0.55"/>
<circle cx="267.4" cy="586.2" r="1.1" fill="#6a2a30" opacity="0.51"/>
<circle cx="269.5" cy="589.0" r="1.1" fill="#5a2440" opacity="0.45"/>
<circle cx="270.7" cy="587.8" r="1.1" fill="#7a4028" opacity="0.39"/>
<circle cx="276.6" cy="590.8" r="1.1" fill="#7a4028" opacity="0.51"/>
<circle cx="267.2" cy="596.8" r="1.1" fill="#5a2440" opacity="0.41"/>
<circle cx="269.3" cy="598.9" r="1.1" fill="#7a4028" opacity="0.40"/>
<circle cx="271.6" cy="602.0" r="1.1" fill="#6a2a30" opacity="0.49"/>
<circle cx="275.6" cy="602.9" r="1.1" fill="#5a2440" opacity="0.31"/>
<circle cx="284.6" cy="584.8" r="1.1" fill="#7a4028" opacity="0.40"/>
<circle cx="293.9" cy="583.7" r="1.1" fill="#6a2a30" opacity="0.35"/>
<circle cx="296.2" cy="582.8" r="1.1" fill="#5a2440" opacity="0.40"/>
<circle cx="296.7" cy="587.1" r="1.1" fill="#7a4028" opacity="0.49"/>
<circle cx="301.0" cy="580.7" r="1.1" fill="#8a5030" opacity="0.53"/>
<circle cx="303.2" cy="590.4" r="1.1" fill="#7a4028" opacity="0.42"/>
<circle cx="306.0" cy="589.9" r="1.1" fill="#6a2a30" opacity="0.44"/>
<circle cx="309.2" cy="586.9" r="1.1" fill="#7a4028" opacity="0.34"/>
<circle cx="311.4" cy="588.9" r="1.1" fill="#5a2440" opacity="0.56"/>
<circle cx="309.1" cy="592.8" r="1.1" fill="#7a4028" opacity="0.48"/>
<circle cx="314.7" cy="591.1" r="1.1" fill="#7a4028" opacity="0.53"/>
<circle cx="294.5" cy="577.0" r="1.1" fill="#7a4028" opacity="0.54"/>
<circle cx="303.7" cy="599.3" r="1.1" fill="#5a2440" opacity="0.52"/>
<circle cx="301.9" cy="604.1" r="1.1" fill="#8a5030" opacity="0.33"/>
<circle cx="307.5" cy="603.0" r="1.1" fill="#8a5030" opacity="0.45"/>
<circle cx="306.7" cy="607.3" r="1.1" fill="#7a4028" opacity="0.48"/>
<circle cx="290.3" cy="604.6" r="1.1" fill="#6a2a30" opacity="0.34"/>
<circle cx="291.4" cy="607.3" r="1.1" fill="#8a5030" opacity="0.34"/>
<circle cx="317.5" cy="609.9" r="1.1" fill="#8a5030" opacity="0.50"/>
<circle cx="319.0" cy="604.7" r="1.1" fill="#8a5030" opacity="0.55"/>
<circle cx="324.5" cy="603.6" r="1.1" fill="#5a2440" opacity="0.30"/>
<circle cx="321.4" cy="601.2" r="1.1" fill="#8a5030" opacity="0.58"/>
<circle cx="321.5" cy="612.9" r="1.1" fill="#8a5030" opacity="0.51"/>
<circle cx="296.4" cy="618.6" r="1.1" fill="#7a4028" opacity="0.56"/>
<circle cx="324.3" cy="619.1" r="1.1" fill="#8a5030" opacity="0.42"/>
<circle cx="307.2" cy="631.1" r="1.1" fill="#5a2440" opacity="0.40"/>
<circle cx="271.1" cy="634.1" r="1.1" fill="#8a5030" opacity="0.46"/>
<circle cx="274.1" cy="641.0" r="1.1" fill="#8a5030" opacity="0.48"/>
<circle cx="255.6" cy="637.0" r="1.1" fill="#6a2a30" opacity="0.51"/>
<circle cx="257.6" cy="635.9" r="1.1" fill="#5a2440" opacity="0.47"/>
<circle cx="260.1" cy="638.0" r="1.1" fill="#7a4028" opacity="0.40"/>
<circle cx="255.8" cy="640.1" r="1.1" fill="#8a5030" opacity="0.60"/>
<circle cx="264.4" cy="647.9" r="1.1" fill="#5a2440" opacity="0.36"/>
<circle cx="287.6" cy="648.2" r="1.1" fill="#8a5030" opacity="0.49"/>
</g>
<g filter="url(#b2)">
<circle cx="265.3" cy="582.0" r="1.2" fill="#9a5a30" opacity="0.8"/>
<circle cx="275.1" cy="586.0" r="1.2" fill="#9a5a30" opacity="0.8"/>
<circle cx="269.6" cy="591.2" r="1.4" fill="#5a2038" opacity="0.6"/>
<circle cx="318.0" cy="609.6" r="1.2" fill="#9a5a30" opacity="0.8"/>
<circle cx="257.3" cy="637.2" r="1.2" fill="#9a5a30" opacity="0.8"/>
<circle cx="307.0" cy="631.0" r="1.4" fill="#5a2038" opacity="0.6"/>
<circle cx="306.4" cy="639.6" r="1.4" fill="#5a2038" opacity="0.6"/>
<circle cx="270.8" cy="619.4" r="1.4" fill="#5a2038" opacity="0.6"/>
<circle cx="303.3" cy="598.5" r="1.4" fill="#5a2038" opacity="0.6"/>
<circle cx="285.5" cy="583.2" r="1.2" fill="#9a5a30" opacity="0.8"/>
<circle cx="324.8" cy="610.8" r="1.4" fill="#5a2038" opacity="0.6"/>
</g><g filter="url(#b1)">
<circle cx="289.0" cy="585.3" r="1.5" fill="#e08a20"/><circle cx="289.0" cy="585.3" r="0.85" fill="#fff070"/>
<circle cx="324.2" cy="619.1" r="1.5" fill="#e08a20"/><circle cx="324.2" cy="619.1" r="0.85" fill="#fff070"/>
<circle cx="309.7" cy="586.9" r="0.95" fill="#e09028"/>
<circle cx="307.6" cy="607.1" r="0.95" fill="#e09028"/>
<circle cx="276.3" cy="590.2" r="0.95" fill="#e09028"/>
<circle cx="269.0" cy="640.9" r="0.95" fill="#e09028"/>
<circle cx="264.9" cy="633.5" r="0.95" fill="#e09028"/>
<circle cx="267.4" cy="633.7" r="0.95" fill="#e09028"/>
<circle cx="315.0" cy="650.1" r="1.5" fill="#e08a20"/><circle cx="315.0" cy="650.1" r="0.85" fill="#fff070"/>
</g></g>
<line x1="300.8" y1="636.4" x2="325.3" y2="636.4" stroke="#fff" stroke-width="1"/>
<line x1="300.8" y1="634.3" x2="300.8" y2="638.5" stroke="#fff" stroke-width="1"/>
<line x1="325.3" y1="634.3" x2="325.3" y2="638.5" stroke="#fff" stroke-width="1"/>
<text x="313" y="647" font-size="8.6" text-anchor="middle" fill="#fff">50 µm</text>
</svg>
</body>
</html>
